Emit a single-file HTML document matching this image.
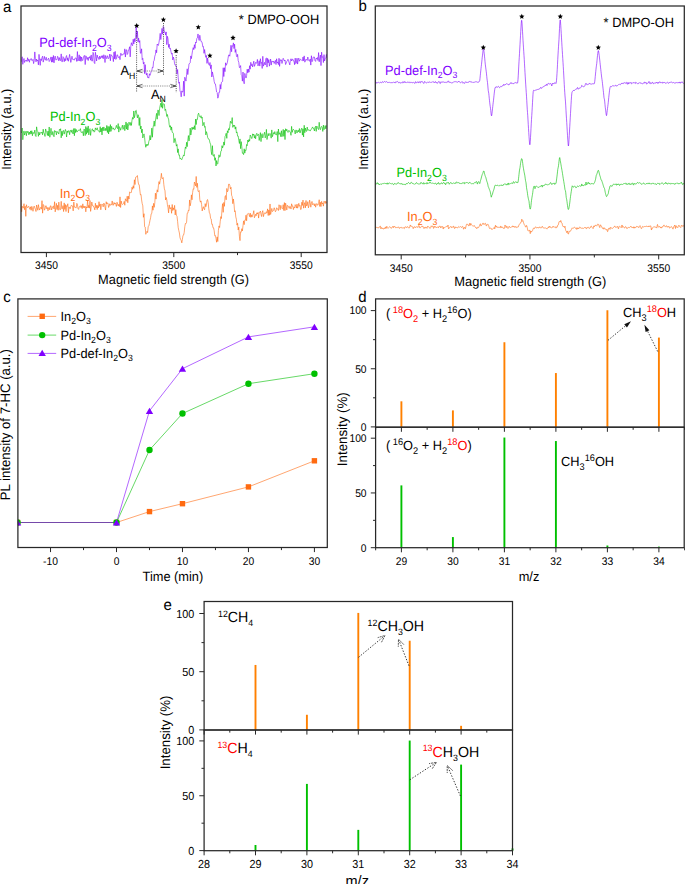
<!DOCTYPE html>
<html><head><meta charset="utf-8"><style>html,body{margin:0;padding:0;background:#fff;}svg{display:block;}text{font-family:"Liberation Sans", sans-serif;}</style></head>
<body><svg width="685" height="884" viewBox="0 0 685 884" font-family='"Liberation Sans", sans-serif' text-rendering="geometricPrecision">
<rect width="685" height="884" fill="#fff"/>
<clipPath id="ca"><rect x="21" y="6" width="306" height="246.5"/></clipPath>
<text transform="translate(3.00,11.80) scale(1,1.04)" font-size="15" text-anchor="start" fill="#000" >a</text>
<g clip-path="url(#ca)">
<polyline points="21.00,62.12 21.60,60.27 22.20,56.78 22.80,64.33 23.40,60.39 24.00,58.48 24.60,62.49 25.20,60.52 25.80,60.60 26.40,60.00 27.00,61.60 27.60,57.72 28.20,60.74 28.80,59.20 29.40,62.28 30.00,59.50 30.60,59.35 31.20,58.52 31.80,60.42 32.40,60.40 33.00,59.34 33.60,63.60 34.20,60.89 34.80,51.92 35.40,58.61 36.00,61.85 36.60,59.06 37.20,60.94 37.80,60.13 38.40,64.86 39.00,54.37 39.60,60.23 40.20,65.35 40.80,58.80 41.40,60.57 42.00,57.57 42.60,56.19 43.20,62.13 43.80,59.69 44.40,56.39 45.00,59.40 45.60,60.23 46.20,57.25 46.80,60.44 47.40,59.85 48.00,59.43 48.60,58.13 49.20,61.54 49.80,60.88 50.40,59.06 51.00,56.90 51.60,62.18 52.20,57.13 52.80,62.11 53.40,55.47 54.00,62.86 54.60,58.01 55.20,56.08 55.80,59.94 56.40,59.67 57.00,59.73 57.60,56.29 58.20,57.53 58.80,60.93 59.40,57.60 60.00,60.18 60.60,60.59 61.20,53.89 61.80,61.65 62.40,61.68 63.00,56.64 63.60,57.24 64.20,61.78 64.80,58.56 65.40,60.77 66.00,56.84 66.60,55.53 67.20,60.37 67.80,57.80 68.40,61.26 69.00,58.26 69.60,54.40 70.20,57.76 70.80,62.40 71.40,59.27 72.00,56.20 72.60,59.44 73.20,59.74 73.80,59.22 74.40,60.20 75.00,58.12 75.60,58.00 76.20,58.01 76.80,61.49 77.40,51.54 78.00,60.96 78.60,58.72 79.20,54.84 79.80,61.05 80.40,56.37 81.00,61.38 81.60,56.99 82.20,60.20 82.80,60.56 83.40,57.76 84.00,55.64 84.60,55.60 85.20,64.57 85.80,55.79 86.40,56.66 87.00,59.45 87.60,57.55 88.20,60.57 88.80,57.20 89.40,58.15 90.00,56.34 90.60,60.20 91.20,54.93 91.80,61.05 92.40,61.06 93.00,52.33 93.60,53.77 94.20,62.66 94.80,63.61 95.40,52.28 96.00,56.07 96.60,60.96 97.20,55.05 97.80,57.65 98.40,57.59 99.00,59.57 99.60,56.09 100.20,58.94 100.80,56.92 101.40,55.79 102.00,57.91 102.60,55.64 103.20,58.80 103.80,54.74 104.40,56.20 105.00,62.52 105.60,55.51 106.20,57.37 106.80,58.76 107.40,55.69 108.00,57.30 108.60,58.67 109.20,57.46 109.80,54.00 110.40,60.77 111.00,54.68 111.60,55.26 112.20,56.21 112.80,57.26 113.40,61.64 114.00,52.06 114.60,58.87 115.20,51.35 115.80,59.44 116.40,58.85 117.00,54.71 117.60,54.98 118.20,57.45 118.80,57.38 119.40,56.53 120.00,59.68 120.60,53.45 121.20,53.47 121.80,55.43 122.40,54.69 123.00,54.73 123.60,53.79 124.20,54.10 124.80,48.85 125.40,57.04 126.00,49.97 126.60,49.75 127.20,54.52 127.80,53.43 128.40,49.98 129.00,49.65 129.60,46.74 130.20,56.90 130.80,46.25 131.40,42.71 132.00,45.12 132.60,45.74 133.20,39.22 133.80,44.02 134.40,38.58 135.00,41.86 135.60,37.37 136.20,26.98 136.80,37.86 137.40,31.13 138.00,41.83 138.60,38.08 139.20,42.47 139.80,40.67 140.40,53.10 141.00,53.34 141.60,48.80 142.20,59.63 142.80,58.33 143.40,63.90 144.00,62.19 144.60,73.64 145.20,64.64 145.80,71.90 146.40,75.07 147.00,73.20 147.60,77.47 148.20,77.11 148.80,78.15 149.40,73.72 150.00,75.37 150.60,73.53 151.20,71.37 151.80,70.76 152.40,67.25 153.00,67.83 153.60,61.21 154.20,60.38 154.80,56.19 155.40,54.56 156.00,49.91 156.60,52.76 157.20,44.06 157.80,45.07 158.40,45.42 159.00,42.25 159.60,38.29 160.20,33.35 160.80,39.60 161.40,34.25 162.00,28.38 162.60,34.17 163.20,26.54 163.80,27.34 164.40,32.18 165.00,31.78 165.60,35.00 166.20,31.92 166.80,44.68 167.40,36.29 168.00,38.89 168.60,47.40 169.20,44.18 169.80,49.02 170.40,48.42 171.00,51.88 171.60,54.21 172.20,53.25 172.80,59.94 173.40,57.08 174.00,59.26 174.60,63.85 175.20,65.31 175.80,64.97 176.40,66.44 177.00,73.87 177.60,69.49 178.20,77.90 178.80,83.29 179.40,82.06 180.00,90.90 180.60,92.27 181.20,96.82 181.80,90.88 182.40,92.04 183.00,91.74 183.60,81.13 184.20,96.12 184.80,77.22 185.40,79.47 186.00,81.08 186.60,74.42 187.20,68.79 187.80,74.60 188.40,69.76 189.00,63.80 189.60,63.46 190.20,62.77 190.80,55.92 191.40,58.67 192.00,54.15 192.60,50.25 193.20,47.67 193.80,49.64 194.40,44.70 195.00,48.37 195.60,42.02 196.20,42.85 196.80,38.58 197.40,37.97 198.00,33.94 198.60,38.69 199.20,40.53 199.80,35.24 200.40,38.60 201.00,41.50 201.60,41.60 202.20,42.93 202.80,46.88 203.40,46.52 204.00,53.31 204.60,49.53 205.20,54.15 205.80,57.33 206.40,55.44 207.00,63.41 207.60,58.06 208.20,61.98 208.80,64.56 209.40,65.38 210.00,62.51 210.60,68.73 211.20,64.88 211.80,76.97 212.40,71.93 213.00,74.86 213.60,77.38 214.20,81.51 214.80,83.75 215.40,83.97 216.00,87.80 216.60,91.95 217.20,92.53 217.80,98.18 218.40,96.79 219.00,92.05 219.60,92.17 220.20,84.49 220.80,89.10 221.40,82.36 222.00,81.90 222.60,81.45 223.20,67.77 223.80,76.55 224.40,67.74 225.00,71.65 225.60,62.81 226.20,65.32 226.80,64.11 227.40,62.33 228.00,58.53 228.60,55.10 229.20,54.85 229.80,56.22 230.40,50.26 231.00,45.23 231.60,51.74 232.20,45.73 232.80,46.29 233.40,42.87 234.00,48.59 234.60,44.11 235.20,52.36 235.80,49.46 236.40,55.54 237.00,56.90 237.60,54.35 238.20,60.63 238.80,62.42 239.40,67.60 240.00,67.38 240.60,65.57 241.20,74.60 241.80,75.64 242.40,81.13 243.00,72.06 243.60,80.90 244.20,83.78 244.80,73.35 245.40,75.55 246.00,78.07 246.60,75.60 247.20,69.19 247.80,72.90 248.40,69.13 249.00,72.17 249.60,65.70 250.20,69.18 250.80,62.30 251.40,65.62 252.00,64.29 252.60,66.96 253.20,63.90 253.80,61.19 254.40,66.38 255.00,64.74 255.60,62.36 256.20,63.03 256.80,63.30 257.40,59.40 258.00,65.93 258.60,63.62 259.20,60.74 259.80,66.08 260.40,58.70 261.00,63.34 261.60,62.43 262.20,68.44 262.80,56.31 263.40,66.14 264.00,64.32 264.60,62.37 265.20,65.02 265.80,58.48 266.40,57.94 267.00,67.11 267.60,58.31 268.20,62.88 268.80,59.59 269.40,66.18 270.00,62.86 270.60,59.07 271.20,65.08 271.80,61.05 272.40,61.34 273.00,62.12 273.60,61.18 274.20,63.51 274.80,61.69 275.40,60.38 276.00,64.56 276.60,58.77 277.20,63.00 277.80,62.18 278.40,64.61 279.00,58.28 279.60,66.36 280.20,59.58 280.80,60.57 281.40,59.80 282.00,63.51 282.60,60.55 283.20,58.29 283.80,59.64 284.40,61.06 285.00,60.00 285.60,64.54 286.20,63.00 286.80,61.33 287.40,60.65 288.00,59.28 288.60,61.43 289.20,62.87 289.80,64.91 290.40,60.26 291.00,58.75 291.60,61.01 292.20,59.26 292.80,59.12 293.40,60.96 294.00,61.12 294.60,64.71 295.20,58.15 295.80,63.61 296.40,62.97 297.00,58.18 297.60,64.09 298.20,59.90 298.80,58.14 299.40,61.23 300.00,59.72 300.60,59.34 301.20,59.70 301.80,60.48 302.40,60.73 303.00,57.02 303.60,60.82 304.20,55.89 304.80,62.20 305.40,60.84 306.00,59.19 306.60,60.02 307.20,60.59 307.80,57.02 308.40,59.61 309.00,60.91 309.60,61.16 310.20,58.98 310.80,65.10 311.40,55.73 312.00,61.73 312.60,60.99 313.20,57.10 313.80,57.09 314.40,57.00 315.00,60.78 315.60,61.42 316.20,58.09 316.80,58.85 317.40,57.54 318.00,60.55 318.60,52.57 319.20,61.83 319.80,58.31 320.40,55.02 321.00,65.61 321.60,52.20 322.20,57.39 322.80,56.65 323.40,62.55 324.00,54.61 324.60,60.96 325.20,58.77 325.80,58.00 326.40,54.45 327.00,58.12" fill="none" stroke="#8000ff" stroke-width="0.6" stroke-linejoin="round" />
<polyline points="21.00,131.62 21.60,132.65 22.20,127.99 22.80,139.73 23.40,133.52 24.00,130.95 24.60,135.05 25.20,132.71 25.80,131.39 26.40,135.74 27.00,131.14 27.60,132.53 28.20,131.50 28.80,134.80 29.40,132.16 30.00,134.21 30.60,130.91 31.20,133.83 31.80,130.72 32.40,135.73 33.00,132.33 33.60,133.37 34.20,133.38 34.80,130.10 35.40,135.70 36.00,136.53 36.60,126.84 37.20,130.76 37.80,131.35 38.40,136.34 39.00,132.12 39.60,135.03 40.20,133.16 40.80,132.41 41.40,133.14 42.00,132.03 42.60,134.85 43.20,129.22 43.80,133.03 44.40,133.71 45.00,136.45 45.60,128.96 46.20,131.12 46.80,132.62 47.40,135.46 48.00,131.04 48.60,135.87 49.20,126.97 49.80,137.25 50.40,133.68 51.00,128.29 51.60,134.54 52.20,135.15 52.80,131.43 53.40,134.72 54.00,136.77 54.60,130.53 55.20,131.63 55.80,131.14 56.40,134.86 57.00,131.37 57.60,132.35 58.20,132.49 58.80,134.09 59.40,129.39 60.00,130.26 60.60,128.73 61.20,137.83 61.80,131.21 62.40,135.64 63.00,130.60 63.60,130.63 64.20,134.14 64.80,131.49 65.40,129.44 66.00,131.55 66.60,137.03 67.20,130.87 67.80,132.55 68.40,130.89 69.00,130.70 69.60,134.67 70.20,130.63 70.80,130.24 71.40,132.34 72.00,129.87 72.60,133.15 73.20,133.99 73.80,128.51 74.40,135.73 75.00,128.47 75.60,132.61 76.20,129.45 76.80,131.89 77.40,131.77 78.00,130.35 78.60,130.25 79.20,130.57 79.80,130.18 80.40,128.63 81.00,132.35 81.60,132.34 82.20,132.70 82.80,131.51 83.40,135.81 84.00,128.97 84.60,129.59 85.20,135.62 85.80,126.45 86.40,134.19 87.00,127.59 87.60,132.63 88.20,125.94 88.80,134.91 89.40,129.30 90.00,128.64 90.60,135.42 91.20,130.38 91.80,129.76 92.40,128.76 93.00,131.17 93.60,130.08 94.20,132.17 94.80,131.30 95.40,127.90 96.00,129.77 96.60,129.64 97.20,127.75 97.80,130.32 98.40,130.55 99.00,131.71 99.60,132.20 100.20,126.69 100.80,132.05 101.40,128.24 102.00,134.93 102.60,127.30 103.20,130.84 103.80,126.95 104.40,128.78 105.00,130.84 105.60,128.33 106.20,130.57 106.80,125.41 107.40,132.46 108.00,126.42 108.60,133.96 109.20,126.47 109.80,131.76 110.40,124.57 111.00,131.37 111.60,126.33 112.20,128.64 112.80,129.27 113.40,127.87 114.00,129.49 114.60,129.86 115.20,129.04 115.80,127.43 116.40,125.34 117.00,127.96 117.60,128.63 118.20,123.58 118.80,132.10 119.40,126.61 120.00,127.63 120.60,130.26 121.20,128.23 121.80,127.48 122.40,125.18 123.00,129.42 123.60,127.97 124.20,125.11 124.80,130.68 125.40,127.14 126.00,121.94 126.60,129.11 127.20,123.38 127.80,130.01 128.40,126.30 129.00,122.08 129.60,124.27 130.20,125.46 130.80,122.44 131.40,125.41 132.00,120.29 132.60,117.48 133.20,119.15 133.80,110.98 134.40,117.75 135.00,115.01 135.60,110.83 136.20,110.25 136.80,114.41 137.40,117.91 138.00,114.67 138.60,115.98 139.20,125.52 139.80,117.54 140.40,128.88 141.00,126.03 141.60,132.73 142.20,129.09 142.80,137.96 143.40,135.26 144.00,133.89 144.60,137.62 145.20,143.61 145.80,147.29 146.40,144.37 147.00,145.91 147.60,144.35 148.20,145.23 148.80,141.56 149.40,139.96 150.00,135.45 150.60,139.93 151.20,136.10 151.80,128.11 152.40,137.23 153.00,127.70 153.60,124.77 154.20,120.95 154.80,126.26 155.40,121.18 156.00,116.71 156.60,113.33 157.20,119.18 157.80,110.09 158.40,110.27 159.00,115.59 159.60,108.48 160.20,105.44 160.80,103.18 161.40,107.25 162.00,99.58 162.60,108.32 163.20,103.85 163.80,103.82 164.40,104.22 165.00,110.48 165.60,109.22 166.20,112.39 166.80,116.45 167.40,114.48 168.00,117.85 168.60,119.07 169.20,124.66 169.80,127.22 170.40,125.67 171.00,130.17 171.60,126.93 172.20,132.27 172.80,132.53 173.40,133.49 174.00,142.71 174.60,138.78 175.20,138.26 175.80,142.23 176.40,146.10 177.00,144.51 177.60,152.55 178.20,148.89 178.80,155.19 179.40,154.98 180.00,159.14 180.60,158.33 181.20,159.19 181.80,159.78 182.40,157.95 183.00,156.53 183.60,154.94 184.20,155.82 184.80,150.62 185.40,147.07 186.00,148.48 186.60,142.25 187.20,146.67 187.80,140.43 188.40,135.56 189.00,140.97 189.60,137.38 190.20,128.13 190.80,135.03 191.40,132.13 192.00,127.22 192.60,129.42 193.20,127.37 193.80,129.14 194.40,125.70 195.00,129.79 195.60,119.08 196.20,124.57 196.80,119.09 197.40,119.37 198.00,114.60 198.60,113.18 199.20,115.36 199.80,116.84 200.40,117.40 201.00,115.66 201.60,118.24 202.20,117.17 202.80,125.77 203.40,124.49 204.00,122.31 204.60,127.30 205.20,126.47 205.80,134.89 206.40,131.64 207.00,133.60 207.60,137.23 208.20,138.78 208.80,138.92 209.40,140.11 210.00,143.02 210.60,144.09 211.20,151.44 211.80,154.69 212.40,145.69 213.00,155.88 213.60,156.13 214.20,154.41 214.80,160.32 215.40,157.78 216.00,165.99 216.60,160.59 217.20,164.25 217.80,163.59 218.40,158.60 219.00,154.81 219.60,157.15 220.20,156.63 220.80,151.29 221.40,150.94 222.00,145.67 222.60,147.90 223.20,145.95 223.80,141.95 224.40,145.16 225.00,136.59 225.60,135.35 226.20,133.24 226.80,138.34 227.40,130.79 228.00,132.79 228.60,128.61 229.20,130.10 229.80,126.25 230.40,121.24 231.00,122.98 231.60,123.25 232.20,117.58 232.80,127.37 233.40,125.18 234.00,126.30 234.60,125.27 235.20,129.11 235.80,126.87 236.40,132.79 237.00,131.93 237.60,136.11 238.20,136.03 238.80,140.40 239.40,143.50 240.00,138.91 240.60,148.67 241.20,141.62 241.80,146.47 242.40,153.18 243.00,152.94 243.60,154.62 244.20,148.81 244.80,153.14 245.40,150.03 246.00,150.57 246.60,144.50 247.20,145.69 247.80,140.00 248.40,142.07 249.00,139.43 249.60,141.19 250.20,135.04 250.80,136.21 251.40,138.18 252.00,138.59 252.60,133.85 253.20,135.30 253.80,134.05 254.40,138.10 255.00,135.39 255.60,138.79 256.20,134.44 256.80,133.27 257.40,135.67 258.00,134.43 258.60,134.43 259.20,140.46 259.80,136.70 260.40,132.63 261.00,141.62 261.60,134.72 262.20,133.66 262.80,137.92 263.40,135.31 264.00,134.16 264.60,132.24 265.20,137.89 265.80,136.16 266.40,129.37 267.00,139.50 267.60,136.05 268.20,133.46 268.80,135.89 269.40,134.27 270.00,133.38 270.60,134.98 271.20,138.18 271.80,129.91 272.40,136.73 273.00,134.64 273.60,132.62 274.20,134.12 274.80,131.59 275.40,133.80 276.00,135.04 276.60,134.68 277.20,131.50 277.80,141.63 278.40,129.01 279.00,134.54 279.60,132.87 280.20,132.80 280.80,136.71 281.40,130.74 282.00,136.69 282.60,134.15 283.20,129.38 283.80,136.39 284.40,130.21 285.00,139.58 285.60,128.72 286.20,130.88 286.80,129.25 287.40,131.63 288.00,132.44 288.60,130.62 289.20,130.49 289.80,131.85 290.40,132.27 291.00,135.34 291.60,126.36 292.20,132.39 292.80,130.12 293.40,129.24 294.00,130.34 294.60,130.79 295.20,133.94 295.80,130.01 296.40,130.18 297.00,133.06 297.60,130.96 298.20,130.12 298.80,131.97 299.40,128.50 300.00,133.03 300.60,130.97 301.20,129.10 301.80,128.20 302.40,135.15 303.00,128.82 303.60,136.95 304.20,125.29 304.80,132.72 305.40,128.08 306.00,130.98 306.60,131.43 307.20,127.05 307.80,130.36 308.40,130.08 309.00,129.61 309.60,130.66 310.20,131.01 310.80,130.02 311.40,128.88 312.00,128.08 312.60,126.93 313.20,128.61 313.80,128.55 314.40,130.95 315.00,127.18 315.60,126.31 316.20,131.39 316.80,126.03 317.40,127.63 318.00,128.72 318.60,129.60 319.20,122.29 319.80,128.32 320.40,129.70 321.00,126.97 321.60,126.37 322.20,127.58 322.80,131.45 323.40,125.10 324.00,129.69 324.60,128.49 325.20,125.54 325.80,128.85 326.40,125.78 327.00,126.37" fill="none" stroke="#00c000" stroke-width="0.6" stroke-linejoin="round" />
<polyline points="21.00,200.00 21.60,211.78 22.20,206.25 22.80,207.60 23.40,207.99 24.00,203.69 24.60,209.69 25.20,206.27 25.80,216.34 26.40,204.72 27.00,206.88 27.60,207.68 28.20,206.73 28.80,206.29 29.40,208.20 30.00,209.40 30.60,206.80 31.20,210.28 31.80,206.34 32.40,208.13 33.00,211.28 33.60,207.33 34.20,206.09 34.80,207.98 35.40,209.23 36.00,211.53 36.60,205.03 37.20,207.55 37.80,210.30 38.40,204.67 39.00,208.11 39.60,210.06 40.20,208.06 40.80,207.30 41.40,209.13 42.00,200.66 42.60,213.17 43.20,204.43 43.80,205.05 44.40,210.18 45.00,208.95 45.60,205.91 46.20,205.77 46.80,208.93 47.40,207.51 48.00,210.86 48.60,207.75 49.20,207.24 49.80,209.90 50.40,205.92 51.00,205.77 51.60,209.95 52.20,208.25 52.80,206.46 53.40,206.07 54.00,208.96 54.60,201.74 55.20,211.89 55.80,207.88 56.40,203.33 57.00,209.51 57.60,205.31 58.20,210.29 58.80,202.12 59.40,207.74 60.00,210.10 60.60,209.27 61.20,201.33 61.80,208.72 62.40,208.69 63.00,205.64 63.60,211.58 64.20,202.88 64.80,209.42 65.40,204.53 66.00,211.56 66.60,205.60 67.20,206.38 67.80,203.74 68.40,212.82 69.00,206.92 69.60,207.93 70.20,208.76 70.80,206.55 71.40,205.19 72.00,205.91 72.60,206.07 73.20,210.89 73.80,202.11 74.40,207.18 75.00,206.81 75.60,207.69 76.20,207.84 76.80,203.34 77.40,204.28 78.00,208.65 78.60,209.42 79.20,207.01 79.80,206.29 80.40,205.68 81.00,207.61 81.60,205.70 82.20,208.65 82.80,203.83 83.40,207.69 84.00,206.07 84.60,207.78 85.20,206.31 85.80,211.85 86.40,206.87 87.00,208.01 87.60,200.08 88.20,207.81 88.80,205.29 89.40,208.11 90.00,200.52 90.60,211.36 91.20,207.24 91.80,202.03 92.40,205.38 93.00,205.39 93.60,207.05 94.20,207.42 94.80,209.86 95.40,203.23 96.00,207.85 96.60,205.35 97.20,209.57 97.80,205.45 98.40,207.93 99.00,201.71 99.60,206.38 100.20,203.94 100.80,209.77 101.40,205.23 102.00,203.97 102.60,204.67 103.20,206.88 103.80,203.12 104.40,203.89 105.00,207.25 105.60,210.05 106.20,201.72 106.80,204.01 107.40,202.92 108.00,203.19 108.60,207.48 109.20,206.08 109.80,203.78 110.40,205.39 111.00,204.50 111.60,204.74 112.20,200.94 112.80,205.13 113.40,205.16 114.00,202.47 114.60,204.11 115.20,202.94 115.80,204.36 116.40,206.42 117.00,202.22 117.60,204.13 118.20,205.90 118.80,204.30 119.40,206.67 120.00,196.86 120.60,207.51 121.20,201.05 121.80,203.75 122.40,204.47 123.00,204.06 123.60,203.51 124.20,201.38 124.80,205.26 125.40,198.77 126.00,200.31 126.60,201.28 127.20,196.21 127.80,202.78 128.40,196.20 129.00,199.06 129.60,191.84 130.20,192.48 130.80,192.98 131.40,192.31 132.00,187.22 132.60,189.29 133.20,185.74 133.80,188.25 134.40,179.75 135.00,184.54 135.60,177.27 136.20,176.94 136.80,176.74 137.40,175.56 138.00,181.02 138.60,184.45 139.20,184.68 139.80,189.86 140.40,194.87 141.00,194.33 141.60,199.93 142.20,203.57 142.80,205.81 143.40,217.29 144.00,213.71 144.60,226.61 145.20,227.02 145.80,234.30 146.40,232.38 147.00,231.34 147.60,232.60 148.20,226.68 148.80,225.98 149.40,223.47 150.00,220.25 150.60,217.75 151.20,213.80 151.80,213.44 152.40,205.93 153.00,210.20 153.60,203.34 154.20,207.37 154.80,202.81 155.40,193.13 156.00,199.11 156.60,193.85 157.20,189.78 157.80,192.03 158.40,185.73 159.00,181.61 159.60,184.12 160.20,180.40 160.80,178.55 161.40,173.32 162.00,178.44 162.60,178.54 163.20,177.54 163.80,184.41 164.40,188.84 165.00,190.75 165.60,200.01 166.20,197.48 166.80,199.86 167.40,204.59 168.00,207.76 168.60,212.89 169.20,204.90 169.80,208.43 170.40,209.03 171.00,207.43 171.60,213.31 172.20,204.49 172.80,210.56 173.40,207.90 174.00,209.67 174.60,205.37 175.20,214.93 175.80,209.64 176.40,215.25 177.00,216.34 177.60,221.36 178.20,227.51 178.80,230.49 179.40,232.97 180.00,237.72 180.60,239.32 181.20,240.42 181.80,242.85 182.40,239.39 183.00,235.34 183.60,235.07 184.20,232.49 184.80,226.60 185.40,223.55 186.00,223.70 186.60,222.24 187.20,213.30 187.80,213.12 188.40,210.23 189.00,210.79 189.60,199.95 190.20,205.83 190.80,202.75 191.40,194.87 192.00,199.80 192.60,192.63 193.20,188.80 193.80,189.23 194.40,182.04 195.00,183.71 195.60,185.87 196.20,176.46 196.80,187.38 197.40,183.24 198.00,191.33 198.60,191.44 199.20,190.55 199.80,199.66 200.40,202.14 201.00,200.90 201.60,204.54 202.20,210.96 202.80,208.16 203.40,206.71 204.00,208.91 204.60,209.78 205.20,203.61 205.80,206.78 206.40,205.13 207.00,200.14 207.60,199.55 208.20,202.61 208.80,208.84 209.40,212.86 210.00,213.88 210.60,218.47 211.20,218.93 211.80,224.32 212.40,224.21 213.00,227.80 213.60,227.87 214.20,230.73 214.80,235.88 215.40,235.58 216.00,238.45 216.60,242.25 217.20,236.89 217.80,241.52 218.40,230.45 219.00,225.91 219.60,227.54 220.20,221.75 220.80,216.62 221.40,218.56 222.00,209.34 222.60,203.66 223.20,212.35 223.80,202.46 224.40,206.32 225.00,196.76 225.60,195.54 226.20,199.81 226.80,188.47 227.40,191.84 228.00,190.79 228.60,184.20 229.20,184.03 229.80,185.29 230.40,188.96 231.00,187.32 231.60,195.31 232.20,196.65 232.80,203.69 233.40,198.97 234.00,204.00 234.60,211.73 235.20,210.75 235.80,216.94 236.40,219.22 237.00,225.11 237.60,223.27 238.20,229.96 238.80,227.10 239.40,236.16 240.00,240.63 240.60,231.86 241.20,232.18 241.80,228.70 242.40,230.95 243.00,225.70 243.60,220.88 244.20,224.63 244.80,220.07 245.40,220.23 246.00,215.20 246.60,220.78 247.20,214.10 247.80,213.85 248.40,213.40 249.00,214.48 249.60,216.70 250.20,213.00 250.80,217.32 251.40,214.76 252.00,217.09 252.60,215.09 253.20,213.78 253.80,210.69 254.40,217.73 255.00,216.35 255.60,214.30 256.20,215.73 256.80,212.82 257.40,214.00 258.00,212.48 258.60,218.09 259.20,212.66 259.80,212.38 260.40,211.06 261.00,214.47 261.60,216.55 262.20,212.40 262.80,210.68 263.40,216.65 264.00,214.08 264.60,212.91 265.20,212.81 265.80,213.68 266.40,211.73 267.00,212.77 267.60,208.86 268.20,215.53 268.80,209.98 269.40,215.24 270.00,203.97 270.60,214.49 271.20,211.87 271.80,208.43 272.40,211.52 273.00,211.13 273.60,210.25 274.20,207.77 274.80,209.74 275.40,211.73 276.00,210.84 276.60,207.75 277.20,208.85 277.80,208.98 278.40,210.54 279.00,204.77 279.60,206.33 280.20,209.76 280.80,205.29 281.40,207.75 282.00,208.61 282.60,208.67 283.20,204.68 283.80,210.53 284.40,202.60 285.00,210.60 285.60,203.18 286.20,206.16 286.80,210.04 287.40,205.48 288.00,205.71 288.60,206.85 289.20,208.42 289.80,206.17 290.40,206.73 291.00,209.06 291.60,203.81 292.20,206.27 292.80,205.81 293.40,209.57 294.00,207.21 294.60,208.00 295.20,204.64 295.80,205.77 296.40,208.09 297.00,204.10 297.60,208.16 298.20,206.48 298.80,203.35 299.40,206.24 300.00,205.40 300.60,209.51 301.20,209.28 301.80,202.24 302.40,205.43 303.00,200.09 303.60,208.16 304.20,204.81 304.80,202.60 305.40,207.88 306.00,200.47 306.60,206.04 307.20,205.25 307.80,201.68 308.40,207.87 309.00,205.89 309.60,200.13 310.20,202.74 310.80,207.19 311.40,203.45 312.00,201.44 312.60,204.74 313.20,204.06 313.80,203.70 314.40,205.84 315.00,203.69 315.60,207.21 316.20,204.70 316.80,203.52 317.40,205.11 318.00,205.15 318.60,203.42 319.20,199.72 319.80,206.47 320.40,202.30 321.00,206.57 321.60,201.35 322.20,203.95 322.80,202.96 323.40,206.13 324.00,201.18 324.60,201.79 325.20,203.51 325.80,201.12 326.40,203.23 327.00,202.13" fill="none" stroke="#ff6a10" stroke-width="0.6" stroke-linejoin="round" />
</g>
<rect x="21" y="6" width="306" height="246.5" fill="none" stroke="#282828" stroke-width="1.25"/>
<line x1="46.40" y1="252.50" x2="46.40" y2="257.10" stroke="#282828" stroke-width="1.0" />
<line x1="173.80" y1="252.50" x2="173.80" y2="257.10" stroke="#282828" stroke-width="1.0" />
<line x1="301.20" y1="252.50" x2="301.20" y2="257.10" stroke="#282828" stroke-width="1.0" />
<line x1="110.10" y1="252.50" x2="110.10" y2="255.10" stroke="#282828" stroke-width="1.0" />
<line x1="237.50" y1="252.50" x2="237.50" y2="255.10" stroke="#282828" stroke-width="1.0" />
<text transform="translate(46.40,268.80) scale(1,1.08)" font-size="10.3" text-anchor="middle" fill="#000" >3450</text>
<text transform="translate(173.80,268.80) scale(1,1.08)" font-size="10.3" text-anchor="middle" fill="#000" >3500</text>
<text transform="translate(301.20,268.80) scale(1,1.08)" font-size="10.3" text-anchor="middle" fill="#000" >3550</text>
<text transform="translate(173.50,283.90) scale(1,1.04)" font-size="12.8" text-anchor="middle" fill="#000" >Magnetic field strength (G)</text>
<text transform="translate(11.20,129.20) rotate(-90) scale(1,1.04)" font-size="12.8" text-anchor="middle">Intensity (a.u.)</text>
<text transform="translate(39.30,47.20) scale(1,1.04)" font-size="12.8" text-anchor="start" fill="#8000ff" >Pd-def-In<tspan font-size="8.70" dy="3.3">2</tspan><tspan dy="-3.3">O</tspan><tspan font-size="8.70" dy="3.3">3</tspan><tspan dy="-3.3"></tspan></text>
<text transform="translate(50.00,121.30) scale(1,1.04)" font-size="12.8" text-anchor="start" fill="#00c000" >Pd-In<tspan font-size="8.70" dy="3.3">2</tspan><tspan dy="-3.3">O</tspan><tspan font-size="8.70" dy="3.3">3</tspan><tspan dy="-3.3"></tspan></text>
<text transform="translate(59.70,197.50) scale(1,1.04)" font-size="12.8" text-anchor="start" fill="#ff6a10" >In<tspan font-size="8.70" dy="3.3">2</tspan><tspan dy="-3.3">O</tspan><tspan font-size="8.70" dy="3.3">3</tspan><tspan dy="-3.3"></tspan></text>
<text transform="translate(319.20,24.10) scale(1,1.04)" font-size="12.8" text-anchor="end" fill="#000" >* DMPO-OOH</text>
<polygon points="136.70,23.00 137.46,24.76 139.36,24.93 137.92,26.20 138.35,28.07 136.70,27.09 135.05,28.07 135.48,26.20 134.04,24.93 135.94,24.76" fill="#000"/>
<polygon points="163.40,16.90 164.16,18.66 166.06,18.83 164.62,20.10 165.05,21.97 163.40,20.99 161.75,21.97 162.18,20.10 160.74,18.83 162.64,18.66" fill="#000"/>
<polygon points="176.10,48.30 176.86,50.06 178.76,50.23 177.32,51.50 177.75,53.37 176.10,52.39 174.45,53.37 174.88,51.50 173.44,50.23 175.34,50.06" fill="#000"/>
<polygon points="198.30,24.40 199.06,26.16 200.96,26.33 199.52,27.60 199.95,29.47 198.30,28.49 196.65,29.47 197.08,27.60 195.64,26.33 197.54,26.16" fill="#000"/>
<polygon points="209.90,52.90 210.66,54.66 212.56,54.83 211.12,56.10 211.55,57.97 209.90,56.99 208.25,57.97 208.68,56.10 207.24,54.83 209.14,54.66" fill="#000"/>
<polygon points="233.00,35.10 233.76,36.86 235.66,37.03 234.22,38.30 234.65,40.17 233.00,39.19 231.35,40.17 231.78,38.30 230.34,37.03 232.24,36.86" fill="#000"/>
<line x1="136.60" y1="31.00" x2="136.60" y2="92.50" stroke="#333" stroke-width="0.8" stroke-dasharray="1.1,1.1"/>
<line x1="163.50" y1="23.00" x2="163.50" y2="75.50" stroke="#333" stroke-width="0.8" stroke-dasharray="1.1,1.1"/>
<line x1="176.20" y1="55.00" x2="176.20" y2="92.50" stroke="#333" stroke-width="0.8" stroke-dasharray="1.1,1.1"/>
<line x1="138.00" y1="71.00" x2="162.00" y2="71.00" stroke="#777" stroke-width="0.8" stroke-dasharray="1.2,1.0"/>
<line x1="138.00" y1="86.00" x2="174.80" y2="86.00" stroke="#777" stroke-width="0.8" stroke-dasharray="1.2,1.0"/>
<polyline points="142.50,69.30 137.00,71.00 142.50,72.70" fill="none" stroke="#444" stroke-width="0.75"/>
<line x1="137.00" y1="71.00" x2="140.00" y2="71.00" stroke="#333" stroke-width="0.9" />
<polyline points="157.60,69.30 163.10,71.00 157.60,72.70" fill="none" stroke="#444" stroke-width="0.75"/>
<line x1="163.10" y1="71.00" x2="160.10" y2="71.00" stroke="#333" stroke-width="0.9" />
<polyline points="142.50,84.30 137.00,86.00 142.50,87.70" fill="none" stroke="#444" stroke-width="0.75"/>
<line x1="137.00" y1="86.00" x2="140.00" y2="86.00" stroke="#333" stroke-width="0.9" />
<polyline points="170.30,84.30 175.80,86.00 170.30,87.70" fill="none" stroke="#444" stroke-width="0.75"/>
<line x1="175.80" y1="86.00" x2="172.80" y2="86.00" stroke="#333" stroke-width="0.9" />
<text transform="translate(120.40,75.20) scale(1,1.04)" font-size="12.8" text-anchor="start"><tspan dy="0.00" font-size="12.80" fill="#000">A</tspan><tspan dy="3.30" font-size="8.70" fill="#000">H</tspan></text>
<text transform="translate(151.00,98.80) scale(1,1.04)" font-size="12.8" text-anchor="start"><tspan dy="0.00" font-size="12.80" fill="#000">A</tspan><tspan dy="3.20" font-size="8.70" fill="#000">N</tspan></text>
<clipPath id="cb"><rect x="375.3" y="6" width="308.99999999999994" height="248.8"/></clipPath>
<text transform="translate(358.60,11.00) scale(1,1.04)" font-size="15" text-anchor="start" fill="#000" >b</text>
<g clip-path="url(#cb)">
<polyline points="375.00,82.43 375.25,81.78 375.50,81.73 375.75,82.58 376.00,83.44 376.25,83.02 376.50,82.60 376.75,82.55 377.00,82.74 377.25,82.86 377.50,82.65 377.75,82.45 378.00,82.36 378.25,82.29 378.50,82.34 378.75,82.55 379.00,82.76 379.25,82.85 379.50,82.94 379.75,82.82 380.00,82.56 380.25,82.36 380.50,82.37 380.75,82.38 381.00,82.55 381.25,82.76 381.50,82.72 381.75,82.33 382.00,81.94 382.25,81.78 382.50,81.62 382.75,81.84 383.00,82.32 383.25,82.64 383.50,82.38 383.75,82.11 384.00,81.80 384.25,81.49 384.50,81.41 384.75,81.69 385.00,81.96 385.25,82.05 385.50,82.13 385.75,82.06 386.00,81.88 386.25,81.72 386.50,81.64 386.75,81.56 387.00,81.85 387.25,82.23 387.50,82.55 387.75,82.76 388.00,82.98 388.25,82.69 388.50,82.41 388.75,82.22 389.00,82.09 389.25,82.04 389.50,82.32 389.75,82.60 390.00,82.73 390.25,82.81 390.50,82.75 390.75,82.50 391.00,82.24 391.25,82.45 391.50,82.66 391.75,82.82 392.00,82.95 392.25,82.98 392.50,82.67 392.75,82.35 393.00,82.17 393.25,82.02 393.50,82.04 393.75,82.33 394.00,82.62 394.25,82.59 394.50,82.57 394.75,82.68 395.00,82.89 395.25,82.94 395.50,82.35 395.75,81.75 396.00,81.75 396.25,81.91 396.50,81.98 396.75,81.94 397.00,81.89 397.25,81.67 397.50,81.44 397.75,81.63 398.00,82.09 398.25,82.49 398.50,82.58 398.75,82.68 399.00,82.45 399.25,82.13 399.50,82.15 399.75,82.68 400.00,83.21 400.25,83.07 400.50,82.93 400.75,82.84 401.00,82.79 401.25,82.74 401.50,82.68 401.75,82.62 402.00,82.72 402.25,82.86 402.50,82.71 402.75,82.14 403.00,81.57 403.25,82.05 403.50,82.54 403.75,82.73 404.00,82.73 404.25,82.60 404.50,82.01 404.75,81.42 405.00,81.72 405.25,82.25 405.50,82.50 405.75,82.35 406.00,82.20 406.25,82.46 406.50,82.72 406.75,82.63 407.00,82.33 407.25,82.10 407.50,82.21 407.75,82.31 408.00,82.40 408.25,82.49 408.50,82.42 408.75,82.12 409.00,81.81 409.25,82.18 409.50,82.55 409.75,82.59 410.00,82.41 410.25,82.30 410.50,82.45 410.75,82.60 411.00,82.42 411.25,82.17 411.50,82.17 411.75,82.57 412.00,82.98 412.25,82.85 412.50,82.73 412.75,82.57 413.00,82.37 413.25,82.25 413.50,82.45 413.75,82.65 414.00,82.82 414.25,82.97 414.50,83.12 414.75,83.25 415.00,83.38 415.25,82.54 415.50,81.70 415.75,81.73 416.00,82.34 416.25,82.81 416.50,82.71 416.75,82.60 417.00,82.47 417.25,82.33 417.50,82.15 417.75,81.92 418.00,81.69 418.25,82.26 418.50,82.82 418.75,82.67 419.00,82.04 419.25,81.62 419.50,82.08 419.75,82.54 420.00,82.77 420.25,82.96 420.50,82.77 420.75,82.05 421.00,81.32 421.25,81.64 421.50,81.97 421.75,81.94 422.00,81.69 422.25,81.57 422.50,81.95 422.75,82.34 423.00,82.67 423.25,82.99 423.50,83.23 423.75,83.35 424.00,83.48 424.25,82.53 424.50,81.58 424.75,81.38 425.00,81.68 425.25,81.98 425.50,82.30 425.75,82.62 426.00,82.85 426.25,83.07 426.50,83.09 426.75,82.80 427.00,82.51 427.25,82.21 427.50,81.92 427.75,81.96 428.00,82.22 428.25,82.41 428.50,82.33 428.75,82.25 429.00,82.20 429.25,82.15 429.50,82.07 429.75,81.93 430.00,81.80 430.25,82.08 430.50,82.36 430.75,82.45 431.00,82.43 431.25,82.40 431.50,82.30 431.75,82.19 432.00,82.15 432.25,82.11 432.50,81.99 432.75,81.72 433.00,81.45 433.25,81.65 433.50,81.85 433.75,82.18 434.00,82.60 434.25,82.87 434.50,82.52 434.75,82.17 435.00,81.85 435.25,81.54 435.50,81.63 435.75,82.32 436.00,83.01 436.25,82.81 436.50,82.61 436.75,82.76 437.00,83.15 437.25,83.37 437.50,82.85 437.75,82.34 438.00,82.13 438.25,82.00 438.50,81.82 438.75,81.57 439.00,81.33 439.25,82.02 439.50,82.71 439.75,83.17 440.00,83.48 440.25,83.56 440.50,82.71 440.75,81.86 441.00,81.73 441.25,81.77 441.50,81.92 441.75,82.23 442.00,82.54 442.25,82.18 442.50,81.82 442.75,81.76 443.00,81.90 443.25,82.01 443.50,81.99 443.75,81.97 444.00,82.07 444.25,82.20 444.50,82.37 444.75,82.60 445.00,82.82 445.25,82.55 445.50,82.28 445.75,82.31 446.00,82.53 446.25,82.65 446.50,82.31 446.75,81.97 447.00,82.05 447.25,82.24 447.50,82.10 447.75,81.49 448.00,80.87 448.25,81.04 448.50,81.21 448.75,81.62 449.00,82.18 449.25,82.55 449.50,82.21 449.75,81.86 450.00,82.02 450.25,82.31 450.50,82.48 450.75,82.47 451.00,82.46 451.25,82.66 451.50,82.85 451.75,82.85 452.00,82.72 452.25,82.63 452.50,82.68 452.75,82.73 453.00,82.51 453.25,82.23 453.50,82.00 453.75,81.85 454.00,81.70 454.25,81.70 454.50,81.69 454.75,81.72 455.00,81.78 455.25,81.79 455.50,81.63 455.75,81.47 456.00,81.55 456.25,81.70 456.50,81.83 456.75,81.94 457.00,82.05 457.25,82.14 457.50,82.22 457.75,82.17 458.00,82.02 458.25,81.82 458.50,81.42 458.75,81.03 459.00,81.32 459.25,81.78 459.50,82.08 459.75,82.16 460.00,82.23 460.25,82.44 460.50,82.66 460.75,82.67 461.00,82.54 461.25,82.37 461.50,82.07 461.75,81.76 462.00,81.68 462.25,81.66 462.50,81.92 462.75,82.60 463.00,83.29 463.25,82.97 463.50,82.66 463.75,82.69 464.00,82.96 464.25,83.19 464.50,83.26 464.75,83.34 465.00,82.76 465.25,82.02 465.50,81.70 465.75,82.00 466.00,82.30 466.25,82.31 466.50,82.33 466.75,82.35 467.00,82.38 467.25,82.40 467.50,82.39 467.75,82.38 468.00,82.31 468.25,82.23 468.50,82.17 468.75,82.17 469.00,82.16 469.25,81.74 469.50,81.32 469.75,81.35 470.00,81.68 470.25,81.92 470.50,81.77 470.75,81.62 471.00,81.77 471.25,81.99 471.50,82.06 471.75,81.91 472.00,81.76 472.25,82.03 472.50,82.30 472.75,82.44 473.00,82.48 473.25,82.50 473.50,82.37 473.75,82.24 474.00,82.22 474.25,82.22 474.50,82.19 474.75,82.14 475.00,82.08 475.25,81.94 475.50,81.81 475.75,81.79 476.00,81.86 476.25,81.90 476.50,81.82 476.75,81.73 477.00,81.89 477.25,82.11 477.50,82.21 477.75,82.11 478.00,82.02 478.25,82.16 478.50,82.30 478.75,82.07 479.00,81.57 479.25,81.15 479.50,81.14 479.75,80.45 480.00,78.34 480.25,75.74 480.50,73.20 480.75,70.90 481.00,68.61 481.25,66.44 481.50,64.27 481.75,61.96 482.00,59.56 482.25,57.23 482.50,55.14 482.75,53.07 483.00,50.86 483.25,49.21 483.50,48.83 483.75,49.85 484.00,51.66 484.25,53.90 484.50,56.17 484.75,58.74 485.00,61.51 485.25,64.10 485.50,66.00 485.75,67.91 486.00,69.82 486.25,71.74 486.50,73.90 486.75,76.42 487.00,78.93 487.25,80.75 487.50,82.55 487.75,85.05 488.00,88.02 488.25,90.66 488.50,91.96 488.75,93.26 489.00,95.62 489.25,98.25 489.50,100.69 489.75,102.84 490.00,104.98 490.25,106.62 490.50,108.25 490.75,110.44 491.00,112.94 491.25,115.03 491.50,115.89 491.75,115.29 492.00,113.43 492.25,111.14 492.50,108.82 492.75,106.55 493.00,104.28 493.25,102.23 493.50,100.19 493.75,97.92 494.00,95.50 494.25,93.15 494.50,91.08 494.75,89.33 495.00,88.05 495.25,87.38 495.50,87.22 495.75,87.36 496.00,87.52 496.25,87.10 496.50,86.68 496.75,86.76 497.00,87.16 497.25,87.42 497.50,87.07 497.75,86.72 498.00,86.51 498.25,86.33 498.50,86.37 498.75,86.70 499.00,87.04 499.25,87.34 499.50,87.65 499.75,87.65 500.00,87.44 500.25,87.14 500.50,86.69 500.75,86.24 501.00,86.33 501.25,86.55 501.50,86.54 501.75,86.17 502.00,85.81 502.25,85.81 502.50,85.81 502.75,85.80 503.00,85.77 503.25,85.62 503.50,84.94 503.75,84.26 504.00,84.56 504.25,85.11 504.50,85.28 504.75,84.90 505.00,84.51 505.25,84.52 505.50,84.52 505.75,84.36 506.00,84.09 506.25,83.85 506.50,83.76 506.75,83.67 507.00,83.70 507.25,83.77 507.50,83.95 507.75,84.31 508.00,84.68 508.25,84.81 508.50,84.94 508.75,84.69 509.00,84.19 509.25,83.83 509.50,84.05 509.75,84.29 510.00,84.05 510.25,83.69 510.50,83.30 510.75,82.87 511.00,82.44 511.25,82.93 511.50,83.43 511.75,83.66 512.00,83.71 512.25,83.70 512.50,83.46 512.75,83.22 513.00,83.31 513.25,83.47 513.50,83.58 513.75,83.63 514.00,83.68 514.25,83.30 514.50,82.92 514.75,82.66 515.00,82.49 515.25,82.41 515.50,82.70 515.75,82.99 516.00,83.04 516.25,83.02 516.50,82.98 516.75,82.93 517.00,82.87 517.25,83.13 517.50,83.09 517.75,82.04 518.00,79.54 518.25,75.81 518.50,70.99 518.75,66.05 519.00,61.75 519.25,57.61 519.50,53.38 519.75,49.02 520.00,44.67 520.25,40.19 520.50,35.72 520.75,31.33 521.00,27.07 521.25,23.20 521.50,20.47 521.75,20.25 522.00,22.90 522.25,26.91 522.50,31.30 522.75,35.76 523.00,40.22 523.25,44.05 523.50,47.88 523.75,51.69 524.00,55.47 524.25,59.39 524.50,63.83 524.75,68.28 525.00,72.61 525.25,76.90 525.50,81.03 525.75,84.88 526.00,88.69 526.25,92.46 526.50,96.21 526.75,100.42 527.00,104.93 527.25,109.20 527.50,112.49 527.75,115.78 528.00,119.97 528.25,124.40 528.50,128.59 528.75,132.45 529.00,136.31 529.25,139.90 529.50,142.92 529.75,144.79 530.00,144.42 530.25,141.78 530.50,137.54 530.75,133.07 531.00,128.44 531.25,123.78 531.50,119.45 531.75,115.62 532.00,111.78 532.25,107.24 532.50,102.72 532.75,98.25 533.00,94.21 533.25,91.37 533.50,90.39 533.75,90.26 534.00,90.38 534.25,90.53 534.50,90.62 534.75,90.62 535.00,90.63 535.25,90.42 535.50,90.21 535.75,90.06 536.00,89.94 536.25,89.85 536.50,89.87 536.75,89.88 537.00,89.68 537.25,89.42 537.50,89.37 537.75,89.63 538.00,89.89 538.25,89.54 538.50,89.20 538.75,89.03 539.00,88.97 539.25,88.93 539.50,88.90 539.75,88.87 540.00,88.48 540.25,87.94 540.50,87.60 540.75,87.56 541.00,87.51 541.25,87.93 541.50,88.36 541.75,88.27 542.00,87.83 542.25,87.43 542.50,87.14 542.75,86.85 543.00,86.81 543.25,86.83 543.50,86.71 543.75,86.37 544.00,86.03 544.25,86.08 544.50,86.14 544.75,85.94 545.00,85.57 545.25,85.29 545.50,85.39 545.75,85.49 546.00,85.03 546.25,84.44 546.50,84.31 546.75,84.91 547.00,85.50 547.25,84.90 547.50,84.32 547.75,83.87 548.00,83.53 548.25,83.35 548.50,83.66 548.75,83.98 549.00,83.99 549.25,83.93 549.50,83.94 549.75,84.05 550.00,84.15 550.25,83.81 550.50,83.46 550.75,83.54 551.00,83.90 551.25,84.35 551.50,85.13 551.75,85.91 552.00,85.07 552.25,83.82 552.50,83.22 552.75,83.60 553.00,83.98 553.25,83.80 553.50,83.61 553.75,83.60 554.00,83.70 554.25,83.68 554.50,83.15 554.75,82.63 555.00,82.64 555.25,82.78 555.50,83.02 555.75,83.37 556.00,83.54 556.25,82.58 556.50,80.40 556.75,77.24 557.00,73.52 557.25,69.35 557.50,64.34 557.75,59.33 558.00,54.97 558.25,50.76 558.50,46.75 558.75,43.01 559.00,39.27 559.25,33.92 559.50,28.61 559.75,24.06 560.00,20.84 560.25,19.86 560.50,21.76 560.75,25.41 561.00,29.49 561.25,33.62 561.50,37.84 561.75,42.19 562.00,46.55 562.25,50.50 562.50,54.46 562.75,58.39 563.00,62.30 563.25,66.30 563.50,70.68 563.75,75.05 564.00,79.70 564.25,84.40 564.50,88.67 564.75,92.33 565.00,95.97 565.25,98.94 565.50,101.91 565.75,105.88 566.00,110.52 566.25,114.99 566.50,118.79 566.75,122.59 567.00,126.83 567.25,131.18 567.50,135.31 567.75,139.04 568.00,142.43 568.25,145.35 568.50,146.00 568.75,143.75 569.00,139.75 569.25,135.34 569.50,131.04 569.75,126.75 570.00,122.32 570.25,117.86 570.50,113.45 570.75,109.10 571.00,104.76 571.25,100.62 571.50,96.77 571.75,93.87 572.00,92.34 572.25,91.79 572.50,91.37 572.75,91.08 573.00,90.77 573.25,90.45 573.50,90.39 573.75,90.70 574.00,91.01 574.25,90.65 574.50,90.28 574.75,90.04 575.00,89.88 575.25,89.69 575.50,89.42 575.75,89.15 576.00,89.06 576.25,89.03 576.50,88.96 576.75,88.85 577.00,88.74 577.25,88.10 577.50,87.47 577.75,87.73 578.00,88.59 578.25,89.20 578.50,88.95 578.75,88.71 579.00,88.39 579.25,88.07 579.50,87.94 579.75,88.13 580.00,88.31 580.25,88.03 580.50,87.74 580.75,87.54 581.00,87.39 581.25,87.10 581.50,86.26 581.75,85.42 582.00,85.59 582.25,86.02 582.50,86.30 582.75,86.36 583.00,86.42 583.25,86.55 583.50,86.69 583.75,86.70 584.00,86.63 584.25,86.52 584.50,86.28 584.75,86.05 585.00,85.38 585.25,84.60 585.50,83.98 585.75,83.58 586.00,83.20 586.25,83.78 586.50,84.39 586.75,84.54 587.00,84.38 587.25,84.29 587.50,84.51 587.75,84.72 588.00,84.53 588.25,84.23 588.50,84.08 588.75,84.15 589.00,84.22 589.25,83.76 589.50,83.31 589.75,83.41 590.00,83.88 590.25,84.20 590.50,83.96 590.75,83.72 591.00,83.81 591.25,83.99 591.50,84.10 591.75,84.10 592.00,84.11 592.25,83.94 592.50,83.78 592.75,83.77 593.00,83.85 593.25,83.90 593.50,83.80 593.75,83.70 594.00,83.78 594.25,83.72 594.50,83.01 594.75,81.37 595.00,79.18 595.25,76.59 595.50,73.98 595.75,71.51 596.00,69.14 596.25,66.91 596.50,65.16 596.75,63.40 597.00,60.81 597.25,58.01 597.50,55.51 597.75,53.50 598.00,51.80 598.25,50.60 598.50,50.81 598.75,52.12 599.00,53.90 599.25,55.85 599.50,57.97 599.75,60.08 600.00,62.41 600.25,64.79 600.50,67.10 600.75,69.29 601.00,71.49 601.25,73.74 601.50,75.99 601.75,77.91 602.00,79.60 602.25,81.40 602.50,83.69 602.75,85.95 603.00,88.16 603.25,90.36 603.50,92.67 603.75,95.17 604.00,97.66 604.25,98.74 604.50,99.82 604.75,101.92 605.00,104.69 605.25,107.27 605.50,109.10 605.75,110.92 606.00,113.08 606.25,114.97 606.50,115.65 606.75,114.61 607.00,112.55 607.25,110.58 607.50,108.54 607.75,106.55 608.00,104.60 608.25,102.53 608.50,99.97 608.75,97.42 609.00,95.12 609.25,92.90 609.50,90.76 609.75,88.91 610.00,87.67 610.25,86.80 610.50,86.32 610.75,86.32 611.00,86.59 611.25,86.75 611.50,86.50 611.75,86.25 612.00,86.03 612.25,85.82 612.50,85.75 612.75,85.88 613.00,86.01 613.25,85.91 613.50,85.80 613.75,85.87 614.00,86.05 614.25,86.15 614.50,85.89 614.75,85.63 615.00,85.43 615.25,85.25 615.50,85.31 615.75,85.75 616.00,86.19 616.25,86.01 616.50,85.83 616.75,85.77 617.00,85.78 617.25,85.74 617.50,85.51 617.75,85.29 618.00,85.05 618.25,84.81 618.50,84.61 618.75,84.48 619.00,84.34 619.25,84.31 619.50,84.29 619.75,84.42 620.00,84.67 620.25,84.81 620.50,84.54 620.75,84.27 621.00,83.85 621.25,83.39 621.50,83.23 621.75,83.53 622.00,83.83 622.25,83.43 622.50,83.02 622.75,83.06 623.00,83.40 623.25,83.58 623.50,83.18 623.75,82.77 624.00,82.63 624.25,82.56 624.50,82.65 624.75,82.97 625.00,83.31 625.25,83.26 625.50,83.21 625.75,82.94 626.00,82.55 626.25,82.35 626.50,82.95 626.75,83.55 627.00,83.95 627.25,84.30 627.50,84.14 627.75,83.23 628.00,82.31 628.25,83.13 628.50,83.96 628.75,83.91 629.00,83.28 629.25,82.78 629.50,82.83 629.75,82.87 630.00,82.94 630.25,83.02 630.50,82.94 630.75,82.62 631.00,82.30 631.25,82.98 631.50,83.66 631.75,83.81 632.00,83.61 632.25,83.38 632.50,83.07 632.75,82.75 633.00,82.78 633.25,82.90 633.50,82.84 633.75,82.53 634.00,82.22 634.25,82.51 634.50,82.80 634.75,83.10 635.00,83.42 635.25,83.54 635.50,82.88 635.75,82.21 636.00,82.33 636.25,82.65 636.50,82.89 636.75,83.04 637.00,83.18 637.25,83.40 637.50,83.62 637.75,83.76 638.00,83.83 638.25,83.79 638.50,83.34 638.75,82.89 639.00,82.74 639.25,82.66 639.50,82.73 639.75,83.03 640.00,83.32 640.25,83.12 640.50,82.91 640.75,82.83 641.00,82.84 641.25,82.92 641.50,83.27 641.75,83.61 642.00,83.80 642.25,83.95 642.50,83.89 642.75,83.54 643.00,83.18 643.25,83.06 643.50,82.94 643.75,83.01 644.00,83.19 644.25,83.22 644.50,82.60 644.75,81.99 645.00,82.23 645.25,82.70 645.50,82.87 645.75,82.61 646.00,82.34 646.25,83.20 646.50,84.06 646.75,84.15 647.00,83.73 647.25,83.37 647.50,83.22 647.75,83.07 648.00,82.97 648.25,82.89 648.50,82.60 648.75,82.02 649.00,81.43 649.25,82.24 649.50,83.04 649.75,83.50 650.00,83.73 650.25,83.79 650.50,83.19 650.75,82.60 651.00,82.76 651.25,83.11 651.50,83.33 651.75,83.33 652.00,83.34 652.25,82.77 652.50,82.20 652.75,82.34 653.00,82.96 653.25,83.47 653.50,83.57 653.75,83.68 654.00,83.47 654.25,83.18 654.50,82.98 654.75,82.91 655.00,82.83 655.25,83.04 655.50,83.25 655.75,82.98 656.00,82.40 656.25,82.01 656.50,82.42 656.75,82.82 657.00,83.09 657.25,83.33 657.50,83.24 657.75,82.66 658.00,82.09 658.25,82.64 658.50,83.20 658.75,83.21 659.00,82.85 659.25,82.48 659.50,82.06 659.75,81.65 660.00,81.95 660.25,82.44 660.50,82.65 660.75,82.43 661.00,82.21 661.25,82.53 661.50,82.85 661.75,82.75 662.00,82.38 662.25,82.19 662.50,82.74 662.75,83.29 663.00,83.04 663.25,82.59 663.50,82.43 663.75,82.70 664.00,82.97 664.25,82.73 664.50,82.49 664.75,82.43 665.00,82.50 665.25,82.63 665.50,83.00 665.75,83.38 666.00,83.25 666.25,83.01 666.50,82.80 666.75,82.64 667.00,82.48 667.25,82.27 667.50,82.05 667.75,82.32 668.00,82.92 668.25,83.38 668.50,83.27 668.75,83.16 669.00,82.92 669.25,82.66 669.50,82.55 669.75,82.69 670.00,82.83 670.25,82.51 670.50,82.19 670.75,82.06 671.00,82.06 671.25,82.07 671.50,82.11 671.75,82.16 672.00,82.40 672.25,82.69 672.50,82.86 672.75,82.84 673.00,82.83 673.25,82.56 673.50,82.30 673.75,82.41 674.00,82.78 674.25,83.08 674.50,83.09 674.75,83.09 675.00,82.97 675.25,82.82 675.50,82.81 675.75,83.02 676.00,83.23 676.25,82.90 676.50,82.56 676.75,82.46 677.00,82.50 677.25,82.56 677.50,82.70 677.75,82.84 678.00,82.77 678.25,82.64 678.50,82.64 678.75,82.85 679.00,83.05 679.25,82.54 679.50,82.02 679.75,82.21 680.00,82.88 680.25,83.30 680.50,82.75 680.75,82.19 681.00,82.20 681.25,82.35 681.50,82.32 681.75,82.02 682.00,81.71 682.25,82.20 682.50,82.69 682.75,82.99 683.00,83.15 683.25,83.28 683.50,83.22 683.75,83.17 684.00,83.11 684.25,83.04 684.50,82.77 684.75,82.17" fill="none" stroke="#8000ff" stroke-width="0.6" stroke-linejoin="round" />
<polyline points="375.00,183.98 375.25,184.30 375.50,184.38 375.75,184.08 376.00,183.78 376.25,183.93 376.50,184.08 376.75,183.71 377.00,183.01 377.25,182.57 377.50,183.16 377.75,183.76 378.00,183.63 378.25,183.32 378.50,183.45 378.75,184.23 379.00,185.01 379.25,184.75 379.50,184.49 379.75,184.40 380.00,184.41 380.25,184.37 380.50,184.07 380.75,183.77 381.00,183.87 381.25,184.06 381.50,184.18 381.75,184.20 382.00,184.21 382.25,183.91 382.50,183.62 382.75,183.47 383.00,183.43 383.25,183.41 383.50,183.52 383.75,183.63 384.00,183.54 384.25,183.39 384.50,183.31 384.75,183.31 385.00,183.31 385.25,183.40 385.50,183.49 385.75,183.44 386.00,183.31 386.25,183.29 386.50,183.73 386.75,184.16 387.00,183.69 387.25,183.00 387.50,182.87 387.75,183.57 388.00,184.28 388.25,183.85 388.50,183.43 388.75,183.27 389.00,183.29 389.25,183.26 389.50,183.03 389.75,182.79 390.00,183.02 390.25,183.37 390.50,183.57 390.75,183.54 391.00,183.50 391.25,183.63 391.50,183.76 391.75,183.68 392.00,183.47 392.25,183.33 392.50,183.51 392.75,183.69 393.00,184.13 393.25,184.63 393.50,184.77 393.75,184.35 394.00,183.94 394.25,183.65 394.50,183.36 394.75,183.52 395.00,183.96 395.25,184.25 395.50,183.93 395.75,183.61 396.00,183.72 396.25,183.93 396.50,184.05 396.75,184.06 397.00,184.06 397.25,183.77 397.50,183.47 397.75,183.08 398.00,182.63 398.25,182.36 398.50,182.82 398.75,183.28 399.00,183.58 399.25,183.84 399.50,183.89 399.75,183.62 400.00,183.34 400.25,183.58 400.50,183.82 400.75,184.01 401.00,184.16 401.25,184.20 401.50,183.75 401.75,183.30 402.00,183.63 402.25,184.14 402.50,184.50 402.75,184.61 403.00,184.72 403.25,184.56 403.50,184.40 403.75,184.35 404.00,184.37 404.25,184.39 404.50,184.37 404.75,184.35 405.00,184.61 405.25,184.95 405.50,184.90 405.75,184.30 406.00,183.69 406.25,183.64 406.50,183.58 406.75,183.66 407.00,183.84 407.25,183.89 407.50,183.45 407.75,183.00 408.00,182.76 408.25,182.57 408.50,182.54 408.75,182.73 409.00,182.92 409.25,183.29 409.50,183.65 409.75,183.81 410.00,183.84 410.25,183.75 410.50,183.16 410.75,182.57 411.00,182.37 411.25,182.27 411.50,182.39 411.75,182.84 412.00,183.30 412.25,183.33 412.50,183.37 412.75,183.41 413.00,183.44 413.25,183.52 413.50,183.72 413.75,183.93 414.00,184.10 414.25,184.26 414.50,184.24 414.75,183.95 415.00,183.66 415.25,183.77 415.50,183.88 415.75,183.62 416.00,183.12 416.25,182.71 416.50,182.69 416.75,182.66 417.00,182.99 417.25,183.40 417.50,183.69 417.75,183.81 418.00,183.94 418.25,183.95 418.50,183.97 418.75,183.95 419.00,183.91 419.25,183.89 419.50,183.94 419.75,184.00 420.00,184.01 420.25,184.02 420.50,183.72 420.75,182.97 421.00,182.22 421.25,182.52 421.50,182.81 421.75,183.14 422.00,183.48 422.25,183.77 422.50,183.81 422.75,183.85 423.00,183.36 423.25,182.74 423.50,182.69 423.75,183.47 424.00,184.25 424.25,183.78 424.50,183.30 424.75,183.15 425.00,183.21 425.25,183.28 425.50,183.43 425.75,183.58 426.00,183.71 426.25,183.85 426.50,183.68 426.75,183.04 427.00,182.40 427.25,183.11 427.50,183.81 427.75,183.93 428.00,183.66 428.25,183.40 428.50,183.15 428.75,182.90 429.00,182.96 429.25,183.11 429.50,182.97 429.75,182.41 430.00,181.85 430.25,182.30 430.50,182.74 430.75,183.07 431.00,183.31 431.25,183.45 431.50,183.19 431.75,182.92 432.00,182.96 432.25,183.07 432.50,183.15 432.75,183.20 433.00,183.26 433.25,183.31 433.50,183.37 433.75,183.56 434.00,183.84 434.25,184.00 434.50,183.70 434.75,183.39 435.00,183.27 435.25,183.20 435.50,183.25 435.75,183.48 436.00,183.71 436.25,184.16 436.50,184.61 436.75,184.36 437.00,183.65 437.25,183.14 437.50,183.38 437.75,183.63 438.00,183.19 438.25,182.58 438.50,182.55 438.75,183.40 439.00,184.25 439.25,184.05 439.50,183.85 439.75,183.89 440.00,184.08 440.25,184.15 440.50,183.75 440.75,183.34 441.00,183.03 441.25,182.74 441.50,182.79 441.75,183.35 442.00,183.91 442.25,183.87 442.50,183.83 442.75,183.53 443.00,183.05 443.25,182.64 443.50,182.46 443.75,182.28 444.00,182.69 444.25,183.25 444.50,183.51 444.75,183.33 445.00,183.15 445.25,183.96 445.50,184.77 445.75,184.52 446.00,183.58 446.25,182.83 446.50,182.86 446.75,182.88 447.00,182.98 447.25,183.10 447.50,182.99 447.75,182.53 448.00,182.08 448.25,182.30 448.50,182.53 448.75,183.06 449.00,183.80 449.25,184.28 449.50,183.76 449.75,183.24 450.00,183.03 450.25,182.88 450.50,182.72 450.75,182.53 451.00,182.33 451.25,182.87 451.50,183.41 451.75,183.64 452.00,183.66 452.25,183.65 452.50,183.53 452.75,183.41 453.00,183.23 453.25,183.04 453.50,183.01 453.75,183.21 454.00,183.41 454.25,183.43 454.50,183.45 454.75,183.27 455.00,182.96 455.25,182.79 455.50,183.17 455.75,183.54 456.00,182.98 456.25,182.18 456.50,181.79 456.75,182.03 457.00,182.27 457.25,182.56 457.50,182.84 457.75,182.99 458.00,183.05 458.25,183.03 458.50,182.72 458.75,182.41 459.00,182.69 459.25,183.13 459.50,183.47 459.75,183.68 460.00,183.89 460.25,183.71 460.50,183.53 460.75,183.42 461.00,183.35 461.25,183.34 461.50,183.51 461.75,183.68 462.00,183.62 462.25,183.49 462.50,183.24 462.75,182.78 463.00,182.33 463.25,182.60 463.50,182.87 463.75,183.24 464.00,183.68 464.25,183.88 464.50,183.17 464.75,182.46 465.00,182.60 465.25,182.95 465.50,183.10 465.75,182.97 466.00,182.83 466.25,182.68 466.50,182.53 466.75,182.45 467.00,182.42 467.25,182.45 467.50,182.78 467.75,183.10 468.00,183.21 468.25,183.27 468.50,183.31 468.75,183.30 469.00,183.30 469.25,182.79 469.50,182.27 469.75,182.27 470.00,182.60 470.25,182.91 470.50,183.09 470.75,183.28 471.00,183.45 471.25,183.62 471.50,183.70 471.75,183.61 472.00,183.53 472.25,183.58 472.50,183.62 472.75,183.68 473.00,183.76 473.25,183.80 473.50,183.72 473.75,183.64 474.00,183.24 474.25,182.76 474.50,182.57 474.75,182.83 475.00,183.08 475.25,182.85 475.50,182.63 475.75,182.24 476.00,181.75 476.25,181.40 476.50,181.60 476.75,181.81 477.00,182.73 477.25,183.82 477.50,184.11 477.75,183.17 478.00,182.23 478.25,181.90 478.50,181.57 478.75,181.73 479.00,182.21 479.25,182.71 479.50,183.25 479.75,183.61 480.00,182.83 480.25,181.63 480.50,180.57 480.75,179.83 481.00,179.10 481.25,178.03 481.50,176.96 481.75,176.05 482.00,175.23 482.25,174.49 482.50,174.01 482.75,173.53 483.00,172.65 483.25,171.75 483.50,171.12 483.75,170.92 484.00,171.20 484.25,172.28 484.50,173.42 484.75,174.44 485.00,175.37 485.25,176.21 485.50,176.71 485.75,177.20 486.00,178.11 486.25,179.13 486.50,180.09 486.75,180.95 487.00,181.82 487.25,182.43 487.50,183.03 487.75,184.12 488.00,185.52 488.25,186.74 488.50,187.23 488.75,187.72 489.00,188.41 489.25,189.15 489.50,189.82 489.75,190.39 490.00,190.95 490.25,191.94 490.50,192.94 490.75,194.35 491.00,196.01 491.25,197.21 491.50,196.72 491.75,195.65 492.00,195.16 492.25,194.76 492.50,194.07 492.75,192.96 493.00,191.86 493.25,191.24 493.50,190.62 493.75,189.86 494.00,189.02 494.25,188.09 494.50,186.85 494.75,185.74 495.00,185.31 495.25,185.24 495.50,185.31 495.75,185.41 496.00,185.52 496.25,185.52 496.50,185.52 496.75,185.49 497.00,185.44 497.25,185.39 497.50,185.30 497.75,185.22 498.00,185.41 498.25,185.68 498.50,185.93 498.75,186.12 499.00,186.32 499.25,186.09 499.50,185.86 499.75,185.54 500.00,185.16 500.25,184.88 500.50,185.16 500.75,185.44 501.00,185.37 501.25,185.23 501.50,185.16 501.75,185.23 502.00,185.29 502.25,185.65 502.50,186.00 502.75,185.75 503.00,185.10 503.25,184.58 503.50,184.59 503.75,184.60 504.00,184.35 504.25,184.05 504.50,183.91 504.75,184.03 505.00,184.16 505.25,184.03 505.50,183.89 505.75,184.19 506.00,184.77 506.25,185.15 506.50,184.72 506.75,184.29 507.00,183.96 507.25,183.66 507.50,183.74 507.75,184.42 508.00,185.10 508.25,184.10 508.50,183.10 508.75,183.05 509.00,183.64 509.25,184.11 509.50,184.11 509.75,184.12 510.00,184.00 510.25,183.84 510.50,183.64 510.75,183.37 511.00,183.09 511.25,183.11 511.50,183.12 511.75,183.07 512.00,182.98 512.25,182.96 512.50,183.27 512.75,183.57 513.00,182.88 513.25,181.94 513.50,181.58 513.75,182.08 514.00,182.59 514.25,182.75 514.50,182.92 514.75,182.84 515.00,182.60 515.25,182.33 515.50,181.94 515.75,181.55 516.00,181.82 516.25,182.25 516.50,182.44 516.75,182.26 517.00,182.08 517.25,182.50 517.50,182.84 517.75,182.76 518.00,182.07 518.25,180.81 518.50,178.79 518.75,176.67 519.00,174.38 519.25,172.05 519.50,170.15 519.75,168.91 520.00,167.67 520.25,165.71 520.50,163.75 520.75,162.20 521.00,160.93 521.25,159.72 521.50,158.75 521.75,158.64 522.00,159.04 522.25,159.98 522.50,161.52 522.75,163.63 523.00,165.75 523.25,167.22 523.50,168.68 523.75,170.09 524.00,171.47 524.25,172.81 524.50,173.97 524.75,175.13 525.00,176.91 525.25,178.84 525.50,180.46 525.75,181.61 526.00,182.76 526.25,185.06 526.50,187.35 526.75,189.03 527.00,190.33 527.25,191.74 527.50,193.67 527.75,195.60 528.00,196.98 528.25,198.22 528.50,199.33 528.75,200.24 529.00,201.15 529.25,203.46 529.50,205.76 529.75,207.57 530.00,208.74 530.25,209.11 530.50,208.56 530.75,207.35 531.00,205.12 531.25,202.66 531.50,200.51 531.75,198.84 532.00,197.16 532.25,195.76 532.50,194.35 532.75,192.58 533.00,190.57 533.25,188.71 533.50,187.32 533.75,186.43 534.00,186.14 534.25,186.12 534.50,186.58 534.75,187.64 535.00,188.69 535.25,187.74 535.50,186.78 535.75,186.32 536.00,186.19 536.25,186.11 536.50,186.26 536.75,186.40 537.00,186.53 537.25,186.64 537.50,186.85 537.75,187.21 538.00,187.57 538.25,187.45 538.50,187.33 538.75,187.25 539.00,187.19 539.25,187.09 539.50,186.86 539.75,186.62 540.00,186.59 540.25,186.55 540.50,186.40 540.75,186.09 541.00,185.78 541.25,185.45 541.50,185.12 541.75,185.57 542.00,186.52 542.25,187.13 542.50,186.33 542.75,185.52 543.00,185.64 543.25,186.00 543.50,186.02 543.75,185.56 544.00,185.10 544.25,185.09 544.50,185.07 544.75,185.01 545.00,184.92 545.25,184.76 545.50,184.32 545.75,183.89 546.00,184.05 546.25,184.35 546.50,184.56 546.75,184.61 547.00,184.67 547.25,184.73 547.50,184.78 547.75,184.70 548.00,184.53 548.25,184.43 548.50,184.54 548.75,184.65 549.00,184.48 549.25,184.24 549.50,184.05 549.75,183.93 550.00,183.81 550.25,183.21 550.50,182.60 550.75,182.59 551.00,182.98 551.25,183.40 551.50,183.98 551.75,184.56 552.00,184.31 552.25,183.86 552.50,183.66 552.75,183.83 553.00,183.99 553.25,183.67 553.50,183.34 553.75,183.11 554.00,182.95 554.25,182.97 554.50,183.73 554.75,184.49 555.00,184.22 555.25,183.70 555.50,183.48 555.75,183.61 556.00,183.33 556.25,181.91 556.50,180.08 556.75,178.12 557.00,176.16 557.25,174.13 557.50,171.85 557.75,169.56 558.00,168.27 558.25,167.23 558.50,165.72 558.75,163.52 559.00,161.31 559.25,159.44 559.50,157.79 559.75,157.54 560.00,158.79 560.25,160.64 560.50,161.93 560.75,163.31 561.00,164.81 561.25,166.33 561.50,167.79 561.75,169.17 562.00,170.54 562.25,172.06 562.50,173.58 562.75,175.20 563.00,176.88 563.25,178.51 563.50,179.98 563.75,181.45 564.00,182.97 564.25,184.50 564.50,186.13 564.75,187.90 565.00,189.67 565.25,190.31 565.50,190.95 565.75,192.74 566.00,195.29 566.25,197.56 566.50,198.69 566.75,199.81 567.00,201.65 567.25,203.66 567.50,205.53 567.75,207.19 568.00,208.81 568.25,209.47 568.50,209.34 568.75,208.74 569.00,207.78 569.25,206.45 569.50,204.68 569.75,202.91 570.00,200.79 570.25,198.59 570.50,196.58 570.75,194.87 571.00,193.15 571.25,191.59 571.50,190.09 571.75,188.32 572.00,186.69 572.25,185.80 572.50,186.18 572.75,186.66 573.00,186.89 573.25,187.05 573.50,187.06 573.75,186.85 574.00,186.65 574.25,186.29 574.50,185.92 574.75,185.98 575.00,186.31 575.25,186.68 575.50,187.21 575.75,187.74 576.00,187.78 576.25,187.71 576.50,187.48 576.75,187.03 577.00,186.59 577.25,186.36 577.50,186.14 577.75,186.17 578.00,186.38 578.25,186.49 578.50,186.43 578.75,186.36 579.00,186.13 579.25,185.85 579.50,185.70 579.75,185.72 580.00,185.75 580.25,185.95 580.50,186.16 580.75,186.25 581.00,186.27 581.25,186.07 581.50,185.01 581.75,183.95 582.00,184.48 582.25,185.40 582.50,185.83 582.75,185.51 583.00,185.19 583.25,185.41 583.50,185.63 583.75,185.47 584.00,185.06 584.25,184.74 584.50,184.80 584.75,184.86 585.00,185.09 585.25,185.37 585.50,184.97 585.75,183.55 586.00,182.13 586.25,183.39 586.50,184.66 586.75,184.90 587.00,184.46 587.25,183.99 587.50,183.38 587.75,182.76 588.00,182.42 588.25,182.14 588.50,182.32 588.75,183.16 589.00,184.00 589.25,183.58 589.50,183.16 589.75,183.33 590.00,183.90 590.25,184.30 590.50,184.04 590.75,183.78 591.00,183.63 591.25,183.50 591.50,183.54 591.75,183.84 592.00,184.14 592.25,183.88 592.50,183.62 592.75,183.59 593.00,183.73 593.25,183.83 593.50,183.83 593.75,183.82 594.00,183.61 594.25,183.19 594.50,182.61 594.75,181.99 595.00,181.27 595.25,180.39 595.50,179.50 595.75,178.24 596.00,176.73 596.25,175.45 596.50,174.92 596.75,174.40 597.00,173.65 597.25,172.85 597.50,172.02 597.75,171.20 598.00,170.66 598.25,170.31 598.50,170.40 598.75,171.11 599.00,172.15 599.25,173.19 599.50,174.20 599.75,175.22 600.00,175.98 600.25,176.69 600.50,177.57 600.75,178.71 601.00,179.84 601.25,179.97 601.50,180.10 601.75,180.63 602.00,181.43 602.25,182.22 602.50,182.94 602.75,183.69 603.00,184.54 603.25,185.42 603.50,186.24 603.75,186.96 604.00,187.68 604.25,188.12 604.50,188.56 604.75,189.60 605.00,191.05 605.25,192.42 605.50,193.41 605.75,194.40 606.00,195.28 606.25,196.11 606.50,196.60 606.75,196.43 607.00,195.79 607.25,195.55 607.50,195.00 607.75,194.56 608.00,194.24 608.25,193.69 608.50,192.20 608.75,190.71 609.00,189.79 609.25,189.01 609.50,188.11 609.75,187.06 610.00,186.07 610.25,185.75 610.50,185.72 610.75,185.70 611.00,185.65 611.25,185.70 611.50,186.08 611.75,186.47 612.00,186.11 612.25,185.56 612.50,185.22 612.75,185.19 613.00,185.16 613.25,184.67 613.50,184.17 613.75,184.10 614.00,184.32 614.25,184.48 614.50,184.38 614.75,184.28 615.00,184.34 615.25,184.43 615.50,184.37 615.75,184.07 616.00,183.77 616.25,184.49 616.50,185.22 616.75,185.10 617.00,184.42 617.25,183.96 617.50,184.33 617.75,184.71 618.00,184.41 618.25,183.95 618.50,183.86 618.75,184.31 619.00,184.77 619.25,185.14 619.50,185.50 619.75,185.21 620.00,184.47 620.25,183.94 620.50,184.26 620.75,184.58 621.00,184.52 621.25,184.36 621.50,184.30 621.75,184.38 622.00,184.45 622.25,184.47 622.50,184.48 622.75,184.28 623.00,183.95 623.25,183.70 623.50,183.81 623.75,183.91 624.00,183.82 624.25,183.67 624.50,183.54 624.75,183.45 625.00,183.37 625.25,183.24 625.50,183.12 625.75,183.45 626.00,184.09 626.25,184.50 626.50,184.00 626.75,183.50 627.00,183.72 627.25,184.13 627.50,184.36 627.75,184.33 628.00,184.29 628.25,183.83 628.50,183.38 628.75,183.55 629.00,184.15 629.25,184.51 629.50,183.95 629.75,183.39 630.00,183.62 630.25,184.05 630.50,184.41 630.75,184.65 631.00,184.89 631.25,184.25 631.50,183.61 631.75,183.32 632.00,183.25 632.25,183.20 632.50,183.19 632.75,183.18 633.00,183.94 633.25,184.88 633.50,185.13 633.75,184.35 634.00,183.56 634.25,183.30 634.50,183.04 634.75,183.30 635.00,183.90 635.25,184.32 635.50,184.03 635.75,183.74 636.00,183.71 636.25,183.75 636.50,183.66 636.75,183.37 637.00,183.09 637.25,182.73 637.50,182.37 637.75,182.48 638.00,182.91 638.25,183.24 638.50,183.15 638.75,183.05 639.00,182.89 639.25,182.72 639.50,182.68 639.75,182.83 640.00,182.99 640.25,183.02 640.50,183.06 640.75,183.38 641.00,183.89 641.25,184.29 641.50,184.26 641.75,184.23 642.00,184.17 642.25,184.11 642.50,183.95 642.75,183.64 643.00,183.34 643.25,183.12 643.50,182.91 643.75,183.09 644.00,183.54 644.25,183.91 644.50,183.96 644.75,184.00 645.00,184.13 645.25,184.29 645.50,184.26 645.75,183.96 646.00,183.65 646.25,183.62 646.50,183.59 646.75,183.65 647.00,183.77 647.25,183.80 647.50,183.44 647.75,183.07 648.00,183.03 648.25,183.06 648.50,183.25 648.75,183.67 649.00,184.08 649.25,183.53 649.50,182.97 649.75,182.95 650.00,183.29 650.25,183.62 650.50,183.86 650.75,184.11 651.00,184.03 651.25,183.87 651.50,183.79 651.75,183.85 652.00,183.90 652.25,183.45 652.50,183.00 652.75,182.99 653.00,183.27 653.25,183.49 653.50,183.45 653.75,183.40 654.00,183.59 654.25,183.85 654.50,183.97 654.75,183.92 655.00,183.86 655.25,183.75 655.50,183.63 655.75,183.91 656.00,184.45 656.25,184.81 656.50,184.41 656.75,184.01 657.00,183.74 657.25,183.49 657.50,183.31 657.75,183.21 658.00,183.11 658.25,183.28 658.50,183.44 658.75,183.41 659.00,183.25 659.25,183.26 659.50,183.90 659.75,184.54 660.00,184.41 660.25,184.10 660.50,183.81 660.75,183.55 661.00,183.29 661.25,183.19 661.50,183.08 661.75,182.97 662.00,182.84 662.25,182.79 662.50,183.02 662.75,183.25 663.00,183.66 663.25,184.12 663.50,184.34 663.75,184.20 664.00,184.06 664.25,183.80 664.50,183.53 664.75,183.46 665.00,183.52 665.25,183.44 665.50,182.85 665.75,182.27 666.00,182.76 666.25,183.52 666.50,183.86 666.75,183.58 667.00,183.29 667.25,183.75 667.50,184.21 667.75,184.12 668.00,183.67 668.25,183.28 668.50,183.19 668.75,183.10 669.00,183.24 669.25,183.44 669.50,183.46 669.75,183.21 670.00,182.96 670.25,183.54 670.50,184.11 670.75,184.15 671.00,183.84 671.25,183.60 671.50,183.62 671.75,183.64 672.00,183.64 672.25,183.62 672.50,183.54 672.75,183.33 673.00,183.13 673.25,183.37 673.50,183.61 673.75,183.65 674.00,183.56 674.25,183.58 674.50,184.04 674.75,184.49 675.00,184.19 675.25,183.69 675.50,183.43 675.75,183.52 676.00,183.61 676.25,183.36 676.50,183.12 676.75,183.03 677.00,183.06 677.25,183.08 677.50,183.10 677.75,183.11 678.00,183.49 678.25,183.95 678.50,184.09 678.75,183.74 679.00,183.38 679.25,183.64 679.50,183.90 679.75,183.78 680.00,183.42 680.25,183.13 680.50,183.09 680.75,183.06 681.00,182.69 681.25,182.23 681.50,182.28 681.75,183.08 682.00,183.88 682.25,184.23 682.50,184.59 682.75,184.33 683.00,183.66 683.25,183.22 683.50,183.70 683.75,184.19 684.00,184.15 684.25,183.97 684.50,183.69 684.75,183.24" fill="none" stroke="#00c000" stroke-width="0.6" stroke-linejoin="round" />
<polyline points="375.00,227.36 375.25,227.77 375.50,228.00 375.75,227.94 376.00,227.88 376.25,227.58 376.50,227.29 376.75,227.19 377.00,227.23 377.25,227.33 377.50,227.69 377.75,228.05 378.00,228.12 378.25,228.11 378.50,227.93 378.75,227.48 379.00,227.02 379.25,227.07 379.50,227.12 379.75,226.81 380.00,226.27 380.25,226.09 380.50,227.40 380.75,228.71 381.00,228.39 381.25,227.68 381.50,227.48 381.75,228.07 382.00,228.65 382.25,228.30 382.50,227.96 382.75,228.16 383.00,228.73 383.25,229.16 383.50,229.00 383.75,228.85 384.00,228.45 384.25,227.99 384.50,227.89 384.75,228.32 385.00,228.76 385.25,227.84 385.50,226.93 385.75,227.06 386.00,227.89 386.25,228.34 386.50,227.31 386.75,226.28 387.00,226.62 387.25,227.30 387.50,227.82 387.75,228.09 388.00,228.36 388.25,228.04 388.50,227.72 388.75,227.46 389.00,227.24 389.25,227.03 389.50,226.86 389.75,226.69 390.00,226.80 390.25,226.97 390.50,227.28 390.75,227.80 391.00,228.32 391.25,228.26 391.50,228.20 391.75,227.91 392.00,227.48 392.25,227.06 392.50,226.69 392.75,226.32 393.00,226.82 393.25,227.53 393.50,227.65 393.75,226.85 394.00,226.05 394.25,226.39 394.50,226.73 394.75,226.82 395.00,226.75 395.25,226.79 395.50,227.35 395.75,227.90 396.00,227.86 396.25,227.66 396.50,227.58 396.75,227.66 397.00,227.75 397.25,227.67 397.50,227.60 397.75,227.36 398.00,227.00 398.25,226.80 398.50,227.26 398.75,227.71 399.00,228.06 399.25,228.39 399.50,228.37 399.75,227.82 400.00,227.27 400.25,227.52 400.50,227.77 400.75,227.70 401.00,227.41 401.25,227.27 401.50,227.70 401.75,228.13 402.00,228.11 402.25,227.97 402.50,227.92 402.75,228.00 403.00,228.07 403.25,227.87 403.50,227.67 403.75,227.88 404.00,228.37 404.25,228.60 404.50,227.85 404.75,227.10 405.00,226.95 405.25,226.96 405.50,226.93 405.75,226.83 406.00,226.73 406.25,227.18 406.50,227.63 406.75,227.53 407.00,227.06 407.25,226.69 407.50,226.68 407.75,226.67 408.00,227.08 408.25,227.59 408.50,227.96 408.75,228.12 409.00,228.28 409.25,228.06 409.50,227.84 409.75,227.02 410.00,225.79 410.25,224.94 410.50,225.59 410.75,226.24 411.00,226.33 411.25,226.28 411.50,226.23 411.75,226.18 412.00,226.13 412.25,226.43 412.50,226.72 412.75,227.34 413.00,228.18 413.25,228.68 413.50,227.88 413.75,227.08 414.00,226.79 414.25,226.63 414.50,226.75 414.75,227.29 415.00,227.82 415.25,227.58 415.50,227.35 415.75,227.26 416.00,227.28 416.25,227.23 416.50,226.93 416.75,226.62 417.00,226.76 417.25,227.02 417.50,227.24 417.75,227.40 418.00,227.56 418.25,226.68 418.50,225.80 418.75,225.51 419.00,225.62 419.25,225.91 419.50,226.92 419.75,227.93 420.00,228.06 420.25,227.96 420.50,227.71 420.75,227.20 421.00,226.69 421.25,226.50 421.50,226.30 421.75,226.41 422.00,226.72 422.25,226.89 422.50,226.51 422.75,226.13 423.00,226.31 423.25,226.63 423.50,227.12 423.75,227.86 424.00,228.61 424.25,228.04 424.50,227.47 424.75,227.47 425.00,227.85 425.25,228.06 425.50,227.54 425.75,227.01 426.00,227.08 426.25,227.31 426.50,227.59 426.75,227.97 427.00,228.35 427.25,227.32 427.50,226.30 427.75,226.11 428.00,226.48 428.25,226.79 428.50,226.86 428.75,226.93 429.00,227.08 429.25,227.24 429.50,227.53 429.75,228.00 430.00,228.48 430.25,228.15 430.50,227.82 430.75,227.20 431.00,226.38 431.25,225.81 431.50,226.27 431.75,226.73 432.00,226.63 432.25,226.40 432.50,226.25 432.75,226.24 433.00,226.23 433.25,227.33 433.50,228.43 433.75,228.18 434.00,227.02 434.25,226.19 434.50,226.67 434.75,227.16 435.00,226.97 435.25,226.61 435.50,226.63 435.75,227.22 436.00,227.81 436.25,227.61 436.50,227.42 436.75,227.29 437.00,227.21 437.25,227.12 437.50,227.04 437.75,226.96 438.00,227.31 438.25,227.76 438.50,227.73 438.75,226.95 439.00,226.17 439.25,226.24 439.50,226.32 439.75,226.26 440.00,226.11 440.25,226.18 440.50,227.10 440.75,228.02 441.00,227.71 441.25,227.10 441.50,226.62 441.75,226.35 442.00,226.07 442.25,226.30 442.50,226.53 442.75,227.28 443.00,228.37 443.25,229.05 443.50,228.08 443.75,227.10 444.00,227.19 444.25,227.55 444.50,227.71 444.75,227.56 445.00,227.42 445.25,227.24 445.50,227.06 445.75,226.84 446.00,226.58 446.25,226.40 446.50,226.54 446.75,226.67 447.00,226.69 447.25,226.69 447.50,226.40 447.75,225.71 448.00,225.01 448.25,226.81 448.50,228.61 448.75,228.96 449.00,228.33 449.25,227.77 449.50,227.47 449.75,227.17 450.00,227.01 450.25,226.89 450.50,226.73 450.75,226.51 451.00,226.29 451.25,226.94 451.50,227.59 451.75,227.60 452.00,227.17 452.25,226.88 452.50,227.13 452.75,227.38 453.00,226.87 453.25,226.17 453.50,226.02 453.75,226.68 454.00,227.34 454.25,227.95 454.50,228.56 454.75,228.29 455.00,227.43 455.25,226.82 455.50,227.23 455.75,227.64 456.00,227.49 456.25,227.20 456.50,227.19 456.75,227.59 457.00,227.99 457.25,227.98 457.50,227.97 457.75,227.73 458.00,227.36 458.25,227.01 458.50,226.78 458.75,226.54 459.00,226.75 459.25,227.07 459.50,227.22 459.75,227.13 460.00,227.04 460.25,226.79 460.50,226.54 460.75,226.69 461.00,227.09 461.25,227.41 461.50,227.40 461.75,227.39 462.00,226.99 462.25,226.50 462.50,226.32 462.75,226.61 463.00,226.90 463.25,228.04 463.50,229.17 463.75,229.16 464.00,228.37 464.25,227.68 464.50,227.41 464.75,227.14 465.00,227.81 465.25,228.60 465.50,228.58 465.75,227.35 466.00,226.12 466.25,225.25 466.50,224.38 466.75,224.08 467.00,224.18 467.25,224.27 467.50,224.29 467.75,224.32 468.00,224.77 468.25,225.32 468.50,225.71 468.75,225.86 469.00,226.02 469.25,224.72 469.50,223.42 469.75,223.58 470.00,224.69 470.25,225.39 470.50,224.39 470.75,223.39 471.00,223.76 471.25,224.46 471.50,224.98 471.75,225.21 472.00,225.43 472.25,225.57 472.50,225.71 472.75,225.75 473.00,225.74 473.25,225.78 473.50,225.99 473.75,226.20 474.00,225.97 474.25,225.62 474.50,225.69 474.75,226.37 475.00,227.05 475.25,227.27 475.50,227.50 475.75,227.55 476.00,227.49 476.25,227.56 476.50,228.15 476.75,228.75 477.00,228.37 477.25,227.76 477.50,227.32 477.75,227.15 478.00,226.97 478.25,227.29 478.50,227.60 478.75,227.38 479.00,226.80 479.25,226.22 479.50,225.59 479.75,224.91 480.00,224.33 480.25,223.79 480.50,223.89 480.75,224.99 481.00,226.08 481.25,225.60 481.50,225.11 481.75,224.85 482.00,224.73 482.25,224.51 482.50,223.84 482.75,223.18 483.00,223.08 483.25,223.14 483.50,223.41 483.75,224.00 484.00,224.72 484.25,224.33 484.50,223.97 484.75,223.63 485.00,223.31 485.25,223.15 485.50,223.63 485.75,224.10 486.00,224.92 486.25,225.82 486.50,226.08 486.75,225.37 487.00,224.67 487.25,224.33 487.50,223.99 487.75,224.05 488.00,224.38 488.25,224.76 488.50,225.34 488.75,225.92 489.00,226.85 489.25,227.87 489.50,228.47 489.75,228.42 490.00,228.38 490.25,228.28 490.50,228.18 490.75,228.16 491.00,228.18 491.25,228.33 491.50,228.97 491.75,229.54 492.00,229.63 492.25,229.50 492.50,229.24 492.75,228.87 493.00,228.49 493.25,228.39 493.50,228.29 493.75,228.00 494.00,227.58 494.25,227.40 494.50,228.14 494.75,228.88 495.00,227.62 495.25,225.90 495.50,225.25 495.75,226.15 496.00,227.08 496.25,226.66 496.50,226.24 496.75,226.46 497.00,227.11 497.25,227.56 497.50,227.21 497.75,226.86 498.00,226.97 498.25,227.20 498.50,227.37 498.75,227.43 499.00,227.50 499.25,227.38 499.50,227.26 499.75,227.39 500.00,227.69 500.25,227.75 500.50,226.85 500.75,225.96 501.00,226.48 501.25,227.36 501.50,227.71 501.75,227.27 502.00,226.83 502.25,227.05 502.50,227.27 502.75,227.63 503.00,228.07 503.25,228.38 503.50,228.22 503.75,228.06 504.00,228.28 504.25,228.60 504.50,228.16 504.75,226.57 505.00,224.98 505.25,225.46 505.50,225.95 505.75,226.57 506.00,227.29 506.25,227.71 506.50,226.92 506.75,226.13 507.00,226.26 507.25,226.61 507.50,227.11 507.75,227.82 508.00,228.52 508.25,228.21 508.50,227.89 508.75,227.35 509.00,226.66 509.25,226.22 509.50,226.75 509.75,227.28 510.00,227.44 510.25,227.52 510.50,227.48 510.75,227.27 511.00,227.05 511.25,226.99 511.50,226.94 511.75,226.97 512.00,227.06 512.25,227.02 512.50,226.41 512.75,225.80 513.00,226.17 513.25,226.78 513.50,226.99 513.75,226.58 514.00,226.17 514.25,226.69 514.50,227.20 514.75,227.42 515.00,227.44 515.25,227.35 515.50,226.86 515.75,226.37 516.00,226.73 516.25,227.30 516.50,227.60 516.75,227.51 517.00,227.42 517.25,227.27 517.50,227.11 517.75,227.14 518.00,227.23 518.25,227.06 518.50,226.28 518.75,225.47 519.00,224.98 519.25,224.57 519.50,224.20 519.75,223.92 520.00,223.63 520.25,223.15 520.50,222.68 520.75,222.51 521.00,222.53 521.25,222.23 521.50,220.60 521.75,219.17 522.00,219.66 522.25,220.73 522.50,221.29 522.75,221.01 523.00,220.73 523.25,221.64 523.50,222.56 523.75,223.31 524.00,223.95 524.25,224.52 524.50,224.78 524.75,225.04 525.00,225.67 525.25,226.39 525.50,226.86 525.75,226.98 526.00,227.08 526.25,226.28 526.50,225.45 526.75,225.67 527.00,226.58 527.25,227.57 527.50,228.88 527.75,230.18 528.00,230.69 528.25,230.99 528.50,231.07 528.75,230.83 529.00,230.58 529.25,230.27 529.50,229.95 529.75,230.84 530.00,232.54 530.25,233.63 530.50,232.30 530.75,230.88 531.00,231.27 531.25,231.97 531.50,232.14 531.75,231.65 532.00,231.16 532.25,230.91 532.50,230.66 532.75,230.02 533.00,229.13 533.25,228.40 533.50,228.33 533.75,228.26 534.00,228.43 534.25,228.73 534.50,228.68 534.75,228.03 535.00,227.43 535.25,227.09 535.50,226.75 535.75,226.91 536.00,227.42 536.25,227.83 536.50,227.87 536.75,227.90 537.00,227.83 537.25,227.74 537.50,227.59 537.75,227.34 538.00,227.09 538.25,227.58 538.50,228.08 538.75,228.12 539.00,227.86 539.25,227.58 539.50,227.18 539.75,226.78 540.00,227.12 540.25,227.63 540.50,227.90 540.75,227.80 541.00,227.69 541.25,227.75 541.50,227.81 541.75,227.41 542.00,226.70 542.25,226.21 542.50,226.55 542.75,226.89 543.00,227.32 543.25,227.77 543.50,228.11 543.75,228.28 544.00,228.45 544.25,228.22 544.50,227.99 544.75,227.86 545.00,227.78 545.25,227.76 545.50,227.96 545.75,228.17 546.00,228.28 546.25,228.37 546.50,228.54 546.75,228.82 547.00,229.11 547.25,228.62 547.50,228.12 547.75,227.69 548.00,227.29 548.25,227.05 548.50,227.43 548.75,227.82 549.00,227.16 549.25,226.25 549.50,226.01 549.75,226.76 550.00,227.52 550.25,227.33 550.50,227.15 550.75,227.17 551.00,227.33 551.25,227.49 551.50,227.69 551.75,227.88 552.00,227.79 552.25,227.62 552.50,227.30 552.75,226.74 553.00,226.17 553.25,226.59 553.50,227.00 553.75,227.06 554.00,226.90 554.25,226.82 554.50,227.12 554.75,227.41 555.00,227.58 555.25,227.73 555.50,227.61 555.75,227.12 556.00,226.60 556.25,227.15 556.50,227.59 556.75,227.65 557.00,227.46 557.25,227.09 557.50,226.07 557.75,225.06 558.00,224.81 558.25,224.76 558.50,224.23 558.75,222.97 559.00,221.71 559.25,221.64 559.50,221.57 559.75,221.64 560.00,221.90 560.25,222.05 560.50,221.18 560.75,220.48 561.00,221.04 561.25,221.90 561.50,222.52 561.75,222.76 562.00,223.01 562.25,224.17 562.50,225.32 562.75,226.02 563.00,226.41 563.25,226.67 563.50,226.40 563.75,226.13 564.00,226.61 564.25,227.29 564.50,227.46 564.75,226.85 565.00,226.24 565.25,227.96 565.50,229.68 565.75,230.51 566.00,230.74 566.25,231.09 566.50,231.88 566.75,232.66 567.00,232.04 567.25,231.07 567.50,231.07 567.75,232.52 568.00,233.95 568.25,234.02 568.50,233.89 568.75,233.11 569.00,231.88 569.25,230.90 569.50,231.15 569.75,231.41 570.00,231.28 570.25,231.04 570.50,230.85 570.75,230.72 571.00,230.59 571.25,229.90 571.50,229.23 571.75,228.60 572.00,228.08 572.25,227.82 572.50,228.14 572.75,228.48 573.00,228.38 573.25,228.16 573.50,227.94 573.75,227.72 574.00,227.51 574.25,227.36 574.50,227.21 574.75,227.40 575.00,227.83 575.25,228.17 575.50,228.16 575.75,228.15 576.00,228.64 576.25,229.26 576.50,229.29 576.75,228.42 577.00,227.54 577.25,228.30 577.50,229.06 577.75,229.08 578.00,228.59 578.25,228.27 578.50,228.57 578.75,228.87 579.00,228.29 579.25,227.50 579.50,227.02 579.75,227.02 580.00,227.02 580.25,227.22 580.50,227.42 580.75,227.76 581.00,228.20 581.25,228.49 581.50,228.21 581.75,227.92 582.00,228.03 582.25,228.23 582.50,228.28 582.75,228.10 583.00,227.92 583.25,228.18 583.50,228.43 583.75,228.33 584.00,228.01 584.25,227.69 584.50,227.40 584.75,227.12 585.00,227.36 585.25,227.74 585.50,227.89 585.75,227.72 586.00,227.55 586.25,228.16 586.50,228.77 586.75,228.58 587.00,227.86 587.25,227.31 587.50,227.41 587.75,227.50 588.00,227.40 588.25,227.24 588.50,227.36 588.75,227.91 589.00,228.45 589.25,228.35 589.50,228.24 589.75,228.14 590.00,228.06 590.25,227.85 590.50,227.13 590.75,226.42 591.00,226.19 591.25,226.09 591.50,226.29 591.75,226.96 592.00,227.62 592.25,227.79 592.50,227.96 592.75,228.20 593.00,228.48 593.25,228.46 593.50,227.23 593.75,225.99 594.00,226.20 594.25,226.73 594.50,226.73 594.75,225.97 595.00,225.20 595.25,225.28 595.50,225.35 595.75,225.43 596.00,225.51 596.25,225.62 596.50,225.86 596.75,226.11 597.00,225.55 597.25,224.79 597.50,224.23 597.75,223.99 598.00,223.85 598.25,224.04 598.50,224.32 598.75,224.89 599.00,225.65 599.25,226.38 599.50,226.98 599.75,227.58 600.00,226.64 600.25,225.33 600.50,224.79 600.75,225.43 601.00,226.08 601.25,226.18 601.50,226.29 601.75,226.79 602.00,227.56 602.25,228.16 602.50,228.06 602.75,227.97 603.00,228.44 603.25,229.05 603.50,229.11 603.75,228.34 604.00,227.58 604.25,228.16 604.50,228.74 604.75,228.98 605.00,229.00 605.25,229.00 605.50,228.96 605.75,228.91 606.00,229.34 606.25,229.88 606.50,230.11 606.75,229.84 607.00,229.45 607.25,230.58 607.50,231.63 607.75,231.51 608.00,230.62 608.25,229.75 608.50,228.98 608.75,228.20 609.00,227.99 609.25,227.91 609.50,228.12 609.75,228.76 610.00,229.42 610.25,228.42 610.50,227.50 610.75,227.39 611.00,227.81 611.25,228.15 611.50,228.10 611.75,228.05 612.00,228.18 612.25,228.37 612.50,228.40 612.75,228.22 613.00,228.04 613.25,227.72 613.50,227.39 613.75,227.17 614.00,227.02 614.25,226.81 614.50,226.36 614.75,225.90 615.00,226.32 615.25,226.96 615.50,227.37 615.75,227.43 616.00,227.50 616.25,227.30 616.50,227.10 616.75,227.07 617.00,227.14 617.25,227.12 617.50,226.71 617.75,226.30 618.00,227.23 618.25,228.49 618.50,228.84 618.75,227.83 619.00,226.82 619.25,226.61 619.50,226.40 619.75,226.41 620.00,226.57 620.25,226.72 620.50,226.88 620.75,227.03 621.00,227.32 621.25,227.66 621.50,227.38 621.75,226.18 622.00,224.98 622.25,226.08 622.50,227.18 622.75,227.35 623.00,226.92 623.25,226.61 623.50,226.76 623.75,226.92 624.00,227.30 624.25,227.74 624.50,227.96 624.75,227.86 625.00,227.76 625.25,227.22 625.50,226.67 625.75,226.59 626.00,226.80 626.25,227.12 626.50,227.86 626.75,228.59 627.00,228.59 627.25,228.39 627.50,228.20 627.75,228.01 628.00,227.83 628.25,227.50 628.50,227.18 628.75,227.26 629.00,227.62 629.25,227.86 629.50,227.64 629.75,227.43 630.00,227.10 630.25,226.74 630.50,226.46 630.75,226.29 631.00,226.12 631.25,226.69 631.50,227.26 631.75,227.45 632.00,227.39 632.25,227.41 632.50,227.72 632.75,228.03 633.00,227.58 633.25,226.94 633.50,226.84 633.75,227.55 634.00,228.25 634.25,227.59 634.50,226.92 634.75,227.02 635.00,227.62 635.25,228.05 635.50,227.79 635.75,227.52 636.00,227.13 636.25,226.70 636.50,226.39 636.75,226.25 637.00,226.11 637.25,226.42 637.50,226.72 637.75,226.81 638.00,226.76 638.25,226.80 638.50,227.25 638.75,227.70 639.00,227.30 639.25,226.68 639.50,226.20 639.75,225.90 640.00,225.60 640.25,226.15 640.50,226.69 640.75,227.34 641.00,228.07 641.25,228.63 641.50,228.52 641.75,228.41 642.00,227.71 642.25,226.86 642.50,226.40 642.75,226.53 643.00,226.66 643.25,226.88 643.50,227.10 643.75,226.96 644.00,226.59 644.25,226.33 644.50,226.48 644.75,226.63 645.00,226.65 645.25,226.64 645.50,226.52 645.75,226.22 646.00,225.93 646.25,226.09 646.50,226.25 646.75,226.34 647.00,226.39 647.25,226.48 647.50,226.75 647.75,227.02 648.00,226.64 648.25,226.11 648.50,225.98 648.75,226.46 649.00,226.94 649.25,226.53 649.50,226.12 649.75,225.99 650.00,226.06 650.25,226.08 650.50,225.96 650.75,225.84 651.00,227.36 651.25,229.28 651.50,230.02 651.75,228.98 652.00,227.95 652.25,227.98 652.50,228.01 652.75,227.90 653.00,227.70 653.25,227.46 653.50,227.06 653.75,226.67 654.00,226.68 654.25,226.79 654.50,226.89 654.75,226.97 655.00,227.05 655.25,227.11 655.50,227.16 655.75,227.22 656.00,227.27 656.25,227.38 656.50,227.73 656.75,228.08 657.00,226.80 657.25,225.11 657.50,224.46 657.75,225.36 658.00,226.26 658.25,226.72 658.50,227.18 658.75,227.13 659.00,226.74 659.25,226.44 659.50,226.51 659.75,226.59 660.00,227.09 660.25,227.71 660.50,227.88 660.75,227.39 661.00,226.90 661.25,227.50 661.50,228.09 661.75,227.92 662.00,227.23 662.25,226.70 662.50,226.80 662.75,226.91 663.00,226.53 663.25,226.04 663.50,225.61 663.75,225.26 664.00,224.91 664.25,225.50 664.50,226.08 664.75,226.43 665.00,226.60 665.25,226.71 665.50,226.56 665.75,226.40 666.00,226.07 666.25,225.69 666.50,225.76 666.75,226.51 667.00,227.26 667.25,227.04 667.50,226.82 667.75,226.72 668.00,226.69 668.25,226.61 668.50,226.31 668.75,226.01 669.00,226.68 669.25,227.59 669.50,228.11 669.75,228.04 670.00,227.97 670.25,227.53 670.50,227.09 670.75,226.82 671.00,226.66 671.25,226.56 671.50,226.69 671.75,226.83 672.00,227.29 672.25,227.82 672.50,228.31 672.75,228.73 673.00,229.14 673.25,228.09 673.50,227.04 673.75,226.52 674.00,226.35 674.25,226.12 674.50,225.59 674.75,225.07 675.00,226.35 675.25,228.07 675.50,228.52 675.75,227.06 676.00,225.59 676.25,226.33 676.50,227.07 676.75,227.28 677.00,227.14 677.25,227.09 677.50,227.40 677.75,227.71 678.00,227.11 678.25,226.28 678.50,225.67 678.75,225.39 679.00,225.10 679.25,225.76 679.50,226.42 679.75,226.74 680.00,226.84 680.25,226.97 680.50,227.25 680.75,227.52 681.00,226.72 681.25,225.66 681.50,225.20 681.75,225.66 682.00,226.12 682.25,226.19 682.50,226.26 682.75,226.04 683.00,225.63 683.25,225.39 683.50,225.83 683.75,226.28 684.00,226.65 684.25,227.01 684.50,227.10 684.75,226.79" fill="none" stroke="#ff6a10" stroke-width="0.6" stroke-linejoin="round" />
</g>
<rect x="375.3" y="6" width="308.99999999999994" height="248.8" fill="none" stroke="#282828" stroke-width="1.25"/>
<line x1="401.20" y1="254.80" x2="401.20" y2="259.40" stroke="#282828" stroke-width="1.0" />
<line x1="529.95" y1="254.80" x2="529.95" y2="259.40" stroke="#282828" stroke-width="1.0" />
<line x1="658.70" y1="254.80" x2="658.70" y2="259.40" stroke="#282828" stroke-width="1.0" />
<line x1="465.57" y1="254.80" x2="465.57" y2="257.40" stroke="#282828" stroke-width="1.0" />
<line x1="594.33" y1="254.80" x2="594.33" y2="257.40" stroke="#282828" stroke-width="1.0" />
<text transform="translate(401.20,271.50) scale(1,1.08)" font-size="10.3" text-anchor="middle" fill="#000" >3450</text>
<text transform="translate(529.95,271.50) scale(1,1.08)" font-size="10.3" text-anchor="middle" fill="#000" >3500</text>
<text transform="translate(658.70,271.50) scale(1,1.08)" font-size="10.3" text-anchor="middle" fill="#000" >3550</text>
<text transform="translate(530.30,286.40) scale(1,1.04)" font-size="12.9" text-anchor="middle" fill="#000" >Magnetic field strength (G)</text>
<text transform="translate(367.80,129.30) rotate(-90) scale(1,1.04)" font-size="12.8" text-anchor="middle">Intensity (a.u.)</text>
<text transform="translate(385.00,74.80) scale(1,1.04)" font-size="12.8" text-anchor="start" fill="#8000ff" >Pd-def-In<tspan font-size="8.70" dy="3.3">2</tspan><tspan dy="-3.3">O</tspan><tspan font-size="8.70" dy="3.3">3</tspan><tspan dy="-3.3"></tspan></text>
<text transform="translate(396.50,177.30) scale(1,1.04)" font-size="12.8" text-anchor="start" fill="#00c000" >Pd-In<tspan font-size="8.70" dy="3.3">2</tspan><tspan dy="-3.3">O</tspan><tspan font-size="8.70" dy="3.3">3</tspan><tspan dy="-3.3"></tspan></text>
<text transform="translate(407.00,221.40) scale(1,1.04)" font-size="12.8" text-anchor="start" fill="#ff6a10" >In<tspan font-size="8.70" dy="3.3">2</tspan><tspan dy="-3.3">O</tspan><tspan font-size="8.70" dy="3.3">3</tspan><tspan dy="-3.3"></tspan></text>
<text transform="translate(674.00,26.60) scale(1,1.04)" font-size="12.8" text-anchor="end" fill="#000" >* DMPO-OH</text>
<polygon points="483.30,44.80 484.06,46.56 485.96,46.73 484.52,48.00 484.95,49.87 483.30,48.89 481.65,49.87 482.08,48.00 480.64,46.73 482.54,46.56" fill="#000"/>
<polygon points="521.80,13.80 522.56,15.56 524.46,15.73 523.02,17.00 523.45,18.87 521.80,17.89 520.15,18.87 520.58,17.00 519.14,15.73 521.04,15.56" fill="#000"/>
<polygon points="560.30,13.80 561.06,15.56 562.96,15.73 561.52,17.00 561.95,18.87 560.30,17.89 558.65,18.87 559.08,17.00 557.64,15.73 559.54,15.56" fill="#000"/>
<polygon points="598.30,44.80 599.06,46.56 600.96,46.73 599.52,48.00 599.95,49.87 598.30,48.89 596.65,49.87 597.08,48.00 595.64,46.73 597.54,46.56" fill="#000"/>
<text transform="translate(3.20,301.80) scale(1,1.04)" font-size="15" text-anchor="start" fill="#000" >c</text>
<clipPath id="cc"><rect x="17.9" y="298.9" width="317.40000000000003" height="248.60000000000002"/></clipPath>
<g clip-path="url(#cc)">
<polyline points="17.54,522.50 116.50,522.50 149.49,511.60 182.47,503.70 248.44,486.90 314.41,460.80" fill="none" stroke="#ff6a10" stroke-width="0.6" stroke-linejoin="round" />
<polyline points="17.54,522.50 116.50,522.50 149.49,450.00 182.47,413.50 248.44,383.70 314.41,373.70" fill="none" stroke="#00c000" stroke-width="0.6" stroke-linejoin="round" />
<polyline points="17.54,522.50 116.50,522.50 149.49,410.80 182.47,368.70 248.44,336.90 314.41,326.80" fill="none" stroke="#8000ff" stroke-width="0.6" stroke-linejoin="round" />
<rect x="14.84" y="519.80" width="5.4" height="5.4" fill="#ff6a10"/>
<rect x="113.80" y="519.80" width="5.4" height="5.4" fill="#ff6a10"/>
<rect x="146.79" y="508.90" width="5.4" height="5.4" fill="#ff6a10"/>
<rect x="179.77" y="501.00" width="5.4" height="5.4" fill="#ff6a10"/>
<rect x="245.74" y="484.20" width="5.4" height="5.4" fill="#ff6a10"/>
<rect x="311.71" y="458.10" width="5.4" height="5.4" fill="#ff6a10"/>
<circle cx="17.54" cy="522.50" r="3.2" fill="#00c000"/>
<circle cx="116.50" cy="522.50" r="3.2" fill="#00c000"/>
<circle cx="149.49" cy="450.00" r="3.2" fill="#00c000"/>
<circle cx="182.47" cy="413.50" r="3.2" fill="#00c000"/>
<circle cx="248.44" cy="383.70" r="3.2" fill="#00c000"/>
<circle cx="314.41" cy="373.70" r="3.2" fill="#00c000"/>
<polygon points="13.84,525.60 21.24,525.60 17.54,519.40" fill="#8000ff"/>
<polygon points="112.80,525.60 120.20,525.60 116.50,519.40" fill="#8000ff"/>
<polygon points="145.79,413.90 153.19,413.90 149.49,407.70" fill="#8000ff"/>
<polygon points="178.77,371.80 186.17,371.80 182.47,365.60" fill="#8000ff"/>
<polygon points="244.74,340.00 252.14,340.00 248.44,333.80" fill="#8000ff"/>
<polygon points="310.71,329.90 318.11,329.90 314.41,323.70" fill="#8000ff"/>
</g>
<rect x="17.9" y="298.9" width="309.40000000000003" height="248.60000000000002" fill="none" stroke="#282828" stroke-width="1.25"/>
<line x1="50.53" y1="547.50" x2="50.53" y2="552.10" stroke="#282828" stroke-width="1.0" />
<line x1="116.50" y1="547.50" x2="116.50" y2="552.10" stroke="#282828" stroke-width="1.0" />
<line x1="182.47" y1="547.50" x2="182.47" y2="552.10" stroke="#282828" stroke-width="1.0" />
<line x1="248.44" y1="547.50" x2="248.44" y2="552.10" stroke="#282828" stroke-width="1.0" />
<line x1="314.41" y1="547.50" x2="314.41" y2="552.10" stroke="#282828" stroke-width="1.0" />
<line x1="83.52" y1="547.50" x2="83.52" y2="550.10" stroke="#282828" stroke-width="1.0" />
<line x1="149.49" y1="547.50" x2="149.49" y2="550.10" stroke="#282828" stroke-width="1.0" />
<line x1="215.46" y1="547.50" x2="215.46" y2="550.10" stroke="#282828" stroke-width="1.0" />
<line x1="281.43" y1="547.50" x2="281.43" y2="550.10" stroke="#282828" stroke-width="1.0" />
<text transform="translate(50.53,564.80) scale(1,1.08)" font-size="10.3" text-anchor="middle" fill="#000" >-10</text>
<text transform="translate(116.50,564.80) scale(1,1.08)" font-size="10.3" text-anchor="middle" fill="#000" >0</text>
<text transform="translate(182.47,564.80) scale(1,1.08)" font-size="10.3" text-anchor="middle" fill="#000" >10</text>
<text transform="translate(248.44,564.80) scale(1,1.08)" font-size="10.3" text-anchor="middle" fill="#000" >20</text>
<text transform="translate(314.41,564.80) scale(1,1.08)" font-size="10.3" text-anchor="middle" fill="#000" >30</text>
<text transform="translate(172.90,580.80) scale(1,1.04)" font-size="12.8" text-anchor="middle" fill="#000" >Time (min)</text>
<text transform="translate(9.80,424.70) rotate(-90) scale(1,1.04)" font-size="13.2" text-anchor="middle">PL intensity of 7-HC (a.u.)</text>
<line x1="27.60" y1="316.40" x2="56.20" y2="316.40" stroke="#ff6a10" stroke-width="0.6" />
<line x1="27.60" y1="335.10" x2="56.20" y2="335.10" stroke="#00c000" stroke-width="0.6" />
<line x1="27.60" y1="353.40" x2="56.20" y2="353.40" stroke="#8000ff" stroke-width="0.6" />
<rect x="39.50" y="313.60" width="5.4" height="5.4" fill="#ff6a10"/>
<circle cx="42.20" cy="335.10" r="3.2" fill="#00c000"/>
<polygon points="38.50,356.00 45.90,356.00 42.20,349.80" fill="#8000ff"/>
<text transform="translate(60.50,320.90) scale(1,1.04)" font-size="12.8" text-anchor="start" fill="#000" >In<tspan font-size="8.70" dy="3.3">2</tspan><tspan dy="-3.3">O</tspan><tspan font-size="8.70" dy="3.3">3</tspan><tspan dy="-3.3"></tspan></text>
<text transform="translate(60.50,339.50) scale(1,1.04)" font-size="12.8" text-anchor="start" fill="#000" >Pd-In<tspan font-size="8.70" dy="3.3">2</tspan><tspan dy="-3.3">O</tspan><tspan font-size="8.70" dy="3.3">3</tspan><tspan dy="-3.3"></tspan></text>
<text transform="translate(60.50,357.90) scale(1,1.04)" font-size="12.8" text-anchor="start" fill="#000" >Pd-def-In<tspan font-size="8.70" dy="3.3">2</tspan><tspan dy="-3.3">O</tspan><tspan font-size="8.70" dy="3.3">3</tspan><tspan dy="-3.3"></tspan></text>
<text transform="translate(358.20,301.50) scale(1,1.04)" font-size="15" text-anchor="start" fill="#000" >d</text>
<line x1="401.40" y1="426.90" x2="401.40" y2="401.31" stroke="#ff8000" stroke-width="1.9" />
<line x1="452.90" y1="426.90" x2="452.90" y2="410.39" stroke="#ff8000" stroke-width="1.9" />
<line x1="504.40" y1="426.90" x2="504.40" y2="342.23" stroke="#ff8000" stroke-width="1.9" />
<line x1="555.90" y1="426.90" x2="555.90" y2="373.05" stroke="#ff8000" stroke-width="1.9" />
<line x1="607.40" y1="426.90" x2="607.40" y2="310.25" stroke="#ff8000" stroke-width="1.9" />
<line x1="658.90" y1="426.90" x2="658.90" y2="337.58" stroke="#ff8000" stroke-width="1.9" />
<line x1="401.40" y1="547.70" x2="401.40" y2="485.39" stroke="#00c000" stroke-width="1.9" />
<line x1="452.90" y1="547.70" x2="452.90" y2="537.08" stroke="#00c000" stroke-width="1.9" />
<line x1="504.40" y1="547.70" x2="504.40" y2="437.54" stroke="#00c000" stroke-width="1.9" />
<line x1="555.90" y1="547.70" x2="555.90" y2="441.05" stroke="#00c000" stroke-width="1.9" />
<line x1="607.40" y1="547.70" x2="607.40" y2="545.51" stroke="#00c000" stroke-width="1.9" />
<line x1="658.90" y1="547.70" x2="658.90" y2="546.61" stroke="#00c000" stroke-width="1.9" />
<rect x="375.6" y="298.9" width="308.6" height="128.3" fill="none" stroke="#282828" stroke-width="1.25"/>
<rect x="375.6" y="427.2" width="308.6" height="120.50000000000006" fill="none" stroke="#282828" stroke-width="1.25"/>
<line x1="401.40" y1="427.20" x2="401.40" y2="431.80" stroke="#282828" stroke-width="1.0" />
<line x1="452.90" y1="427.20" x2="452.90" y2="431.80" stroke="#282828" stroke-width="1.0" />
<line x1="504.40" y1="427.20" x2="504.40" y2="431.80" stroke="#282828" stroke-width="1.0" />
<line x1="555.90" y1="427.20" x2="555.90" y2="431.80" stroke="#282828" stroke-width="1.0" />
<line x1="607.40" y1="427.20" x2="607.40" y2="431.80" stroke="#282828" stroke-width="1.0" />
<line x1="658.90" y1="427.20" x2="658.90" y2="431.80" stroke="#282828" stroke-width="1.0" />
<line x1="375.65" y1="427.20" x2="375.65" y2="429.80" stroke="#282828" stroke-width="1.0" />
<line x1="427.15" y1="427.20" x2="427.15" y2="429.80" stroke="#282828" stroke-width="1.0" />
<line x1="478.65" y1="427.20" x2="478.65" y2="429.80" stroke="#282828" stroke-width="1.0" />
<line x1="530.15" y1="427.20" x2="530.15" y2="429.80" stroke="#282828" stroke-width="1.0" />
<line x1="581.65" y1="427.20" x2="581.65" y2="429.80" stroke="#282828" stroke-width="1.0" />
<line x1="633.15" y1="427.20" x2="633.15" y2="429.80" stroke="#282828" stroke-width="1.0" />
<line x1="684.65" y1="427.20" x2="684.65" y2="429.80" stroke="#282828" stroke-width="1.0" />
<line x1="401.40" y1="547.70" x2="401.40" y2="552.30" stroke="#282828" stroke-width="1.0" />
<line x1="452.90" y1="547.70" x2="452.90" y2="552.30" stroke="#282828" stroke-width="1.0" />
<line x1="504.40" y1="547.70" x2="504.40" y2="552.30" stroke="#282828" stroke-width="1.0" />
<line x1="555.90" y1="547.70" x2="555.90" y2="552.30" stroke="#282828" stroke-width="1.0" />
<line x1="607.40" y1="547.70" x2="607.40" y2="552.30" stroke="#282828" stroke-width="1.0" />
<line x1="658.90" y1="547.70" x2="658.90" y2="552.30" stroke="#282828" stroke-width="1.0" />
<line x1="375.65" y1="547.70" x2="375.65" y2="550.30" stroke="#282828" stroke-width="1.0" />
<line x1="427.15" y1="547.70" x2="427.15" y2="550.30" stroke="#282828" stroke-width="1.0" />
<line x1="478.65" y1="547.70" x2="478.65" y2="550.30" stroke="#282828" stroke-width="1.0" />
<line x1="530.15" y1="547.70" x2="530.15" y2="550.30" stroke="#282828" stroke-width="1.0" />
<line x1="581.65" y1="547.70" x2="581.65" y2="550.30" stroke="#282828" stroke-width="1.0" />
<line x1="633.15" y1="547.70" x2="633.15" y2="550.30" stroke="#282828" stroke-width="1.0" />
<line x1="684.65" y1="547.70" x2="684.65" y2="550.30" stroke="#282828" stroke-width="1.0" />
<text transform="translate(401.40,564.80) scale(1,1.08)" font-size="10.3" text-anchor="middle" fill="#000" >29</text>
<text transform="translate(452.90,564.80) scale(1,1.08)" font-size="10.3" text-anchor="middle" fill="#000" >30</text>
<text transform="translate(504.40,564.80) scale(1,1.08)" font-size="10.3" text-anchor="middle" fill="#000" >31</text>
<text transform="translate(555.90,564.80) scale(1,1.08)" font-size="10.3" text-anchor="middle" fill="#000" >32</text>
<text transform="translate(607.40,564.80) scale(1,1.08)" font-size="10.3" text-anchor="middle" fill="#000" >33</text>
<text transform="translate(658.90,564.80) scale(1,1.08)" font-size="10.3" text-anchor="middle" fill="#000" >34</text>
<line x1="370.80" y1="310.60" x2="375.60" y2="310.60" stroke="#282828" stroke-width="1.0" />
<line x1="370.80" y1="368.75" x2="375.60" y2="368.75" stroke="#282828" stroke-width="1.0" />
<line x1="370.80" y1="426.90" x2="375.60" y2="426.90" stroke="#282828" stroke-width="1.0" />
<line x1="373.00" y1="339.67" x2="375.60" y2="339.67" stroke="#282828" stroke-width="1.0" />
<line x1="373.00" y1="397.82" x2="375.60" y2="397.82" stroke="#282828" stroke-width="1.0" />
<text transform="translate(366.60,314.44) scale(1,1.08)" font-size="10.3" text-anchor="end" fill="#000" >100</text>
<text transform="translate(366.60,372.59) scale(1,1.08)" font-size="10.3" text-anchor="end" fill="#000" >50</text>
<text transform="translate(366.60,430.74) scale(1,1.08)" font-size="10.3" text-anchor="end" fill="#000" >0</text>
<line x1="370.80" y1="438.20" x2="375.60" y2="438.20" stroke="#282828" stroke-width="1.0" />
<line x1="370.80" y1="492.95" x2="375.60" y2="492.95" stroke="#282828" stroke-width="1.0" />
<line x1="370.80" y1="547.70" x2="375.60" y2="547.70" stroke="#282828" stroke-width="1.0" />
<line x1="373.00" y1="465.58" x2="375.60" y2="465.58" stroke="#282828" stroke-width="1.0" />
<line x1="373.00" y1="520.33" x2="375.60" y2="520.33" stroke="#282828" stroke-width="1.0" />
<text transform="translate(366.60,442.04) scale(1,1.08)" font-size="10.3" text-anchor="end" fill="#000" >100</text>
<text transform="translate(366.60,496.79) scale(1,1.08)" font-size="10.3" text-anchor="end" fill="#000" >50</text>
<text transform="translate(366.60,551.54) scale(1,1.08)" font-size="10.3" text-anchor="end" fill="#000" >0</text>
<text transform="translate(529.00,580.70) scale(1,1.04)" font-size="12.8" text-anchor="middle" fill="#000" >m/z</text>
<text transform="translate(346.60,429.20) rotate(-90) scale(1,1.04)" font-size="13.3" text-anchor="middle">Intensity (%)</text>
<text transform="translate(386.00,317.70) scale(1,1.04)" font-size="12.8" text-anchor="start"><tspan dy="0.00" font-size="12.80" fill="#000">(</tspan><tspan dy="0.00" font-size="12.80" fill="#000"> </tspan><tspan dy="-4.80" font-size="9.22" fill="#ff0000">18</tspan><tspan dy="4.80" font-size="12.80" fill="#ff0000">O</tspan><tspan dy="4.00" font-size="9.22" fill="#ff0000">2</tspan><tspan dy="-4.00" font-size="12.80" fill="#000"> + H</tspan><tspan dy="4.00" font-size="9.22" fill="#000">2</tspan><tspan dy="-8.80" font-size="9.22" fill="#000">16</tspan><tspan dy="4.80" font-size="12.80" fill="#000">O</tspan><tspan dy="0.00" font-size="12.80" fill="#000">)</tspan></text>
<text transform="translate(386.00,450.20) scale(1,1.04)" font-size="12.8" text-anchor="start"><tspan dy="0.00" font-size="12.80" fill="#000">(</tspan><tspan dy="0.00" font-size="12.80" fill="#000"> </tspan><tspan dy="-4.80" font-size="9.22" fill="#000">16</tspan><tspan dy="4.80" font-size="12.80" fill="#000">O</tspan><tspan dy="4.00" font-size="9.22" fill="#000">2</tspan><tspan dy="-4.00" font-size="12.80" fill="#000"> + H</tspan><tspan dy="4.00" font-size="9.22" fill="#000">2</tspan><tspan dy="-8.80" font-size="9.22" fill="#ff0000">18</tspan><tspan dy="4.80" font-size="12.80" fill="#ff0000">O</tspan><tspan dy="0.00" font-size="12.80" fill="#000">)</tspan></text>
<text transform="translate(623.00,316.80) scale(1,1.04)" font-size="12.8" text-anchor="start"><tspan dy="0.00" font-size="12.80" fill="#000">CH</tspan><tspan dy="4.00" font-size="9.22" fill="#000">3</tspan><tspan dy="-8.80" font-size="9.22" fill="#ff0000">18</tspan><tspan dy="4.80" font-size="12.80" fill="#ff0000">O</tspan><tspan dy="0.00" font-size="12.80" fill="#000">H</tspan></text>
<text transform="translate(561.00,465.50) scale(1,1.04)" font-size="12.8" text-anchor="start"><tspan dy="0.00" font-size="12.80" fill="#000">CH</tspan><tspan dy="4.00" font-size="9.22" fill="#000">3</tspan><tspan dy="-8.80" font-size="9.22" fill="#000">16</tspan><tspan dy="4.80" font-size="12.80" fill="#000">OH</tspan></text>
<line x1="608.00" y1="340.30" x2="625.60" y2="325.76" stroke="#222" stroke-width="0.9" stroke-dasharray="1.4,1.6"/>
<polygon points="631.00,321.30 626.94,327.38 624.27,324.14" fill="#111"/>
<line x1="657.70" y1="351.50" x2="647.52" y2="331.07" stroke="#222" stroke-width="0.9" stroke-dasharray="1.4,1.6"/>
<polygon points="644.40,324.80 649.40,330.13 645.64,332.00" fill="#111"/>
<text transform="translate(163.50,609.90) scale(1,1.04)" font-size="15" text-anchor="start" fill="#000" >e</text>
<line x1="255.50" y1="729.90" x2="255.50" y2="664.95" stroke="#ff8000" stroke-width="1.9" />
<line x1="306.90" y1="729.90" x2="306.90" y2="714.77" stroke="#ff8000" stroke-width="1.9" />
<line x1="358.30" y1="729.90" x2="358.30" y2="612.92" stroke="#ff8000" stroke-width="1.9" />
<line x1="409.70" y1="729.90" x2="409.70" y2="640.74" stroke="#ff8000" stroke-width="1.9" />
<line x1="461.10" y1="729.90" x2="461.10" y2="725.83" stroke="#ff8000" stroke-width="1.9" />
<line x1="255.50" y1="850.60" x2="255.50" y2="845.01" stroke="#00c000" stroke-width="1.9" />
<line x1="306.90" y1="850.60" x2="306.90" y2="783.90" stroke="#00c000" stroke-width="1.9" />
<line x1="358.30" y1="850.60" x2="358.30" y2="829.87" stroke="#00c000" stroke-width="1.9" />
<line x1="409.70" y1="850.60" x2="409.70" y2="740.57" stroke="#00c000" stroke-width="1.9" />
<line x1="461.10" y1="850.60" x2="461.10" y2="764.60" stroke="#00c000" stroke-width="1.9" />
<line x1="512.50" y1="850.60" x2="512.50" y2="848.41" stroke="#00c000" stroke-width="1.9" />
<rect x="204.1" y="601.5" width="308.4" height="128.5" fill="none" stroke="#282828" stroke-width="1.25"/>
<rect x="204.1" y="730" width="308.4" height="120.70000000000005" fill="none" stroke="#282828" stroke-width="1.25"/>
<line x1="204.10" y1="730.00" x2="204.10" y2="734.60" stroke="#282828" stroke-width="1.0" />
<line x1="255.50" y1="730.00" x2="255.50" y2="734.60" stroke="#282828" stroke-width="1.0" />
<line x1="306.90" y1="730.00" x2="306.90" y2="734.60" stroke="#282828" stroke-width="1.0" />
<line x1="358.30" y1="730.00" x2="358.30" y2="734.60" stroke="#282828" stroke-width="1.0" />
<line x1="409.70" y1="730.00" x2="409.70" y2="734.60" stroke="#282828" stroke-width="1.0" />
<line x1="461.10" y1="730.00" x2="461.10" y2="734.60" stroke="#282828" stroke-width="1.0" />
<line x1="512.50" y1="730.00" x2="512.50" y2="734.60" stroke="#282828" stroke-width="1.0" />
<line x1="229.80" y1="730.00" x2="229.80" y2="732.60" stroke="#282828" stroke-width="1.0" />
<line x1="281.20" y1="730.00" x2="281.20" y2="732.60" stroke="#282828" stroke-width="1.0" />
<line x1="332.60" y1="730.00" x2="332.60" y2="732.60" stroke="#282828" stroke-width="1.0" />
<line x1="384.00" y1="730.00" x2="384.00" y2="732.60" stroke="#282828" stroke-width="1.0" />
<line x1="435.40" y1="730.00" x2="435.40" y2="732.60" stroke="#282828" stroke-width="1.0" />
<line x1="486.80" y1="730.00" x2="486.80" y2="732.60" stroke="#282828" stroke-width="1.0" />
<line x1="204.10" y1="850.70" x2="204.10" y2="855.30" stroke="#282828" stroke-width="1.0" />
<line x1="255.50" y1="850.70" x2="255.50" y2="855.30" stroke="#282828" stroke-width="1.0" />
<line x1="306.90" y1="850.70" x2="306.90" y2="855.30" stroke="#282828" stroke-width="1.0" />
<line x1="358.30" y1="850.70" x2="358.30" y2="855.30" stroke="#282828" stroke-width="1.0" />
<line x1="409.70" y1="850.70" x2="409.70" y2="855.30" stroke="#282828" stroke-width="1.0" />
<line x1="461.10" y1="850.70" x2="461.10" y2="855.30" stroke="#282828" stroke-width="1.0" />
<line x1="512.50" y1="850.70" x2="512.50" y2="855.30" stroke="#282828" stroke-width="1.0" />
<line x1="229.80" y1="850.70" x2="229.80" y2="853.30" stroke="#282828" stroke-width="1.0" />
<line x1="281.20" y1="850.70" x2="281.20" y2="853.30" stroke="#282828" stroke-width="1.0" />
<line x1="332.60" y1="850.70" x2="332.60" y2="853.30" stroke="#282828" stroke-width="1.0" />
<line x1="384.00" y1="850.70" x2="384.00" y2="853.30" stroke="#282828" stroke-width="1.0" />
<line x1="435.40" y1="850.70" x2="435.40" y2="853.30" stroke="#282828" stroke-width="1.0" />
<line x1="486.80" y1="850.70" x2="486.80" y2="853.30" stroke="#282828" stroke-width="1.0" />
<text transform="translate(204.10,868.20) scale(1,1.08)" font-size="10.8" text-anchor="middle" fill="#000" >28</text>
<text transform="translate(255.50,868.20) scale(1,1.08)" font-size="10.8" text-anchor="middle" fill="#000" >29</text>
<text transform="translate(306.90,868.20) scale(1,1.08)" font-size="10.8" text-anchor="middle" fill="#000" >30</text>
<text transform="translate(358.30,868.20) scale(1,1.08)" font-size="10.8" text-anchor="middle" fill="#000" >31</text>
<text transform="translate(409.70,868.20) scale(1,1.08)" font-size="10.8" text-anchor="middle" fill="#000" >32</text>
<text transform="translate(461.10,868.20) scale(1,1.08)" font-size="10.8" text-anchor="middle" fill="#000" >33</text>
<text transform="translate(512.50,868.20) scale(1,1.08)" font-size="10.8" text-anchor="middle" fill="#000" >34</text>
<line x1="199.30" y1="613.50" x2="204.10" y2="613.50" stroke="#282828" stroke-width="1.0" />
<line x1="199.30" y1="671.70" x2="204.10" y2="671.70" stroke="#282828" stroke-width="1.0" />
<line x1="199.30" y1="729.90" x2="204.10" y2="729.90" stroke="#282828" stroke-width="1.0" />
<line x1="201.50" y1="642.60" x2="204.10" y2="642.60" stroke="#282828" stroke-width="1.0" />
<line x1="201.50" y1="700.80" x2="204.10" y2="700.80" stroke="#282828" stroke-width="1.0" />
<text transform="translate(194.20,617.52) scale(1,1.08)" font-size="10.8" text-anchor="end" fill="#000" >100</text>
<text transform="translate(194.20,675.72) scale(1,1.08)" font-size="10.8" text-anchor="end" fill="#000" >50</text>
<text transform="translate(194.20,733.92) scale(1,1.08)" font-size="10.8" text-anchor="end" fill="#000" >0</text>
<line x1="199.30" y1="740.90" x2="204.10" y2="740.90" stroke="#282828" stroke-width="1.0" />
<line x1="199.30" y1="795.75" x2="204.10" y2="795.75" stroke="#282828" stroke-width="1.0" />
<line x1="199.30" y1="850.60" x2="204.10" y2="850.60" stroke="#282828" stroke-width="1.0" />
<line x1="201.50" y1="768.33" x2="204.10" y2="768.33" stroke="#282828" stroke-width="1.0" />
<line x1="201.50" y1="823.18" x2="204.10" y2="823.18" stroke="#282828" stroke-width="1.0" />
<text transform="translate(194.20,744.92) scale(1,1.08)" font-size="10.8" text-anchor="end" fill="#000" >100</text>
<text transform="translate(194.20,799.77) scale(1,1.08)" font-size="10.8" text-anchor="end" fill="#000" >50</text>
<text transform="translate(194.20,854.62) scale(1,1.08)" font-size="10.8" text-anchor="end" fill="#000" >0</text>
<text transform="translate(357.20,885.50) scale(1,1.04)" font-size="14.5" text-anchor="middle" fill="#000" >m/z</text>
<text transform="translate(169.50,732.40) rotate(-90) scale(1,1.04)" font-size="13.3" text-anchor="middle">Intensity (%)</text>
<text transform="translate(218.00,622.20) scale(1,1.04)" font-size="14.2" text-anchor="start"><tspan dy="-5.20" font-size="8.80" fill="#000">12</tspan><tspan dy="5.20" font-size="14.20" fill="#000">CH</tspan><tspan dy="4.00" font-size="8.80" fill="#000">4</tspan></text>
<text transform="translate(217.40,753.30) scale(1,1.04)" font-size="14.2" text-anchor="start"><tspan dy="-5.20" font-size="8.80" fill="#ff0000">13</tspan><tspan dy="5.20" font-size="14.20" fill="#ff0000">C</tspan><tspan dy="0.00" font-size="14.20" fill="#000">H</tspan><tspan dy="4.00" font-size="8.80" fill="#000">4</tspan></text>
<text transform="translate(367.60,630.90) scale(1,1.04)" font-size="14.2" text-anchor="start"><tspan dy="-5.20" font-size="8.80" fill="#000">12</tspan><tspan dy="5.20" font-size="14.20" fill="#000">CH</tspan><tspan dy="4.00" font-size="8.80" fill="#000">3</tspan><tspan dy="-4.00" font-size="14.20" fill="#000">OH</tspan></text>
<text transform="translate(422.70,756.80) scale(1,1.04)" font-size="14.2" text-anchor="start"><tspan dy="-5.20" font-size="8.80" fill="#ff0000">13</tspan><tspan dy="5.20" font-size="14.20" fill="#ff0000">C</tspan><tspan dy="0.00" font-size="14.20" fill="#000">H</tspan><tspan dy="4.00" font-size="8.80" fill="#000">3</tspan><tspan dy="-4.00" font-size="14.20" fill="#000">OH</tspan></text>
<line x1="358.50" y1="657.30" x2="384.23" y2="636.14" stroke="#222" stroke-width="0.9" stroke-dasharray="1.4,1.6"/>
<polyline points="381.50,642.26 385.00,635.50 377.69,637.63" fill="none" stroke="#333" stroke-width="0.8" stroke-dasharray="2,0.8"/>
<line x1="409.00" y1="665.80" x2="398.87" y2="640.13" stroke="#222" stroke-width="0.9" stroke-dasharray="1.4,1.6"/>
<polyline points="403.86,644.61 398.50,639.20 398.28,646.81" fill="none" stroke="#333" stroke-width="0.8" stroke-dasharray="2,0.8"/>
<line x1="409.80" y1="779.80" x2="435.66" y2="762.85" stroke="#222" stroke-width="0.9" stroke-dasharray="1.4,1.6"/>
<polyline points="432.29,768.65 436.50,762.30 429.00,763.63" fill="none" stroke="#333" stroke-width="0.8" stroke-dasharray="2,0.8"/>
<line x1="460.40" y1="796.00" x2="447.60" y2="766.32" stroke="#222" stroke-width="0.9" stroke-dasharray="1.4,1.6"/>
<polyline points="452.73,770.64 447.20,765.40 447.22,773.02" fill="none" stroke="#333" stroke-width="0.8" stroke-dasharray="2,0.8"/>
</svg></body></html>
